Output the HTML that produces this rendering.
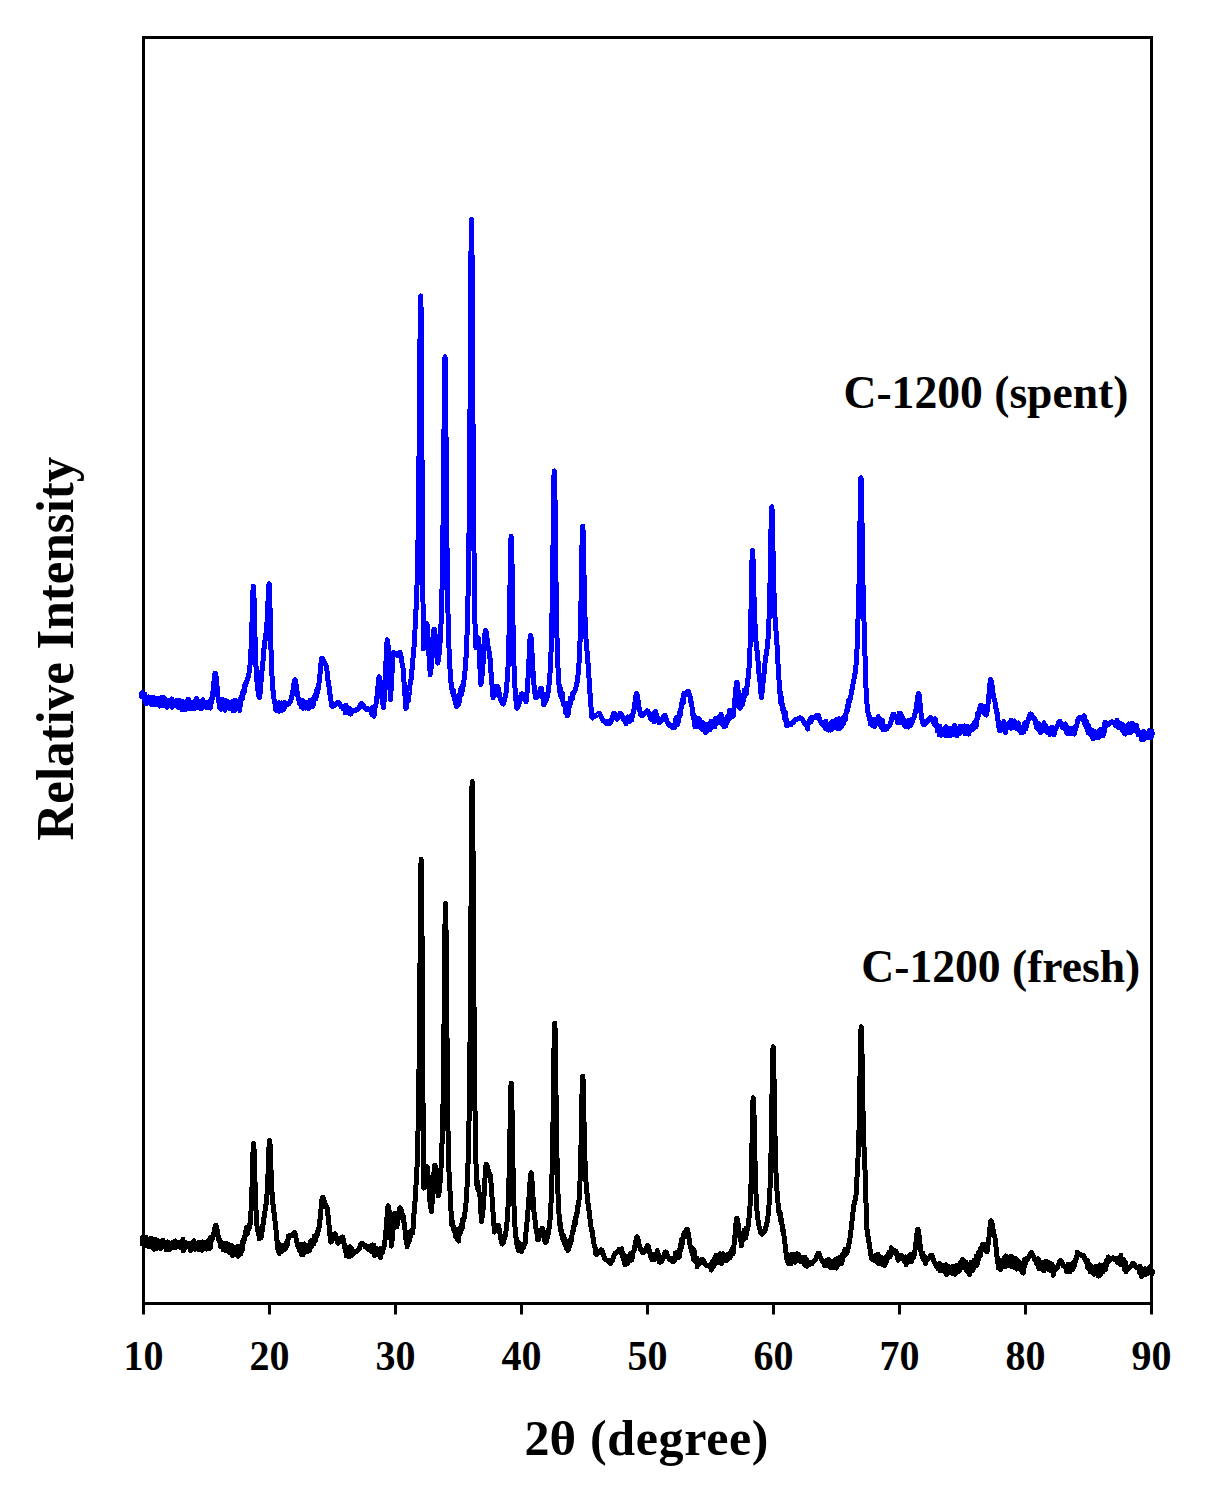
<!DOCTYPE html>
<html><head><meta charset="utf-8"><style>
html,body{margin:0;padding:0;background:#fff;}
#c{position:relative;width:1208px;height:1491px;overflow:hidden;background:#fff;}
svg{position:absolute;left:0;top:0;}
text{font-family:"Liberation Serif",serif;font-weight:bold;fill:#000;}
</style></head><body><div id="c">
<svg width="1208" height="1491" viewBox="0 0 1208 1491">
<rect x="143.5" y="37.5" width="1008" height="1266" fill="none" stroke="#000" stroke-width="3"/>
<g stroke="#000" stroke-width="3"><line x1="143.5" y1="1303" x2="143.5" y2="1314.5"/><line x1="269.5" y1="1303" x2="269.5" y2="1314.5"/><line x1="395.5" y1="1303" x2="395.5" y2="1314.5"/><line x1="521.5" y1="1303" x2="521.5" y2="1314.5"/><line x1="647.5" y1="1303" x2="647.5" y2="1314.5"/><line x1="773.5" y1="1303" x2="773.5" y2="1314.5"/><line x1="899.5" y1="1303" x2="899.5" y2="1314.5"/><line x1="1025.5" y1="1303" x2="1025.5" y2="1314.5"/><line x1="1151.5" y1="1303" x2="1151.5" y2="1314.5"/></g>
<g font-size="40" text-anchor="middle"><text transform="translate(143.5,1370) scale(1,1.035)">10</text><text transform="translate(269.5,1370) scale(1,1.035)">20</text><text transform="translate(395.5,1370) scale(1,1.035)">30</text><text transform="translate(521.5,1370) scale(1,1.035)">40</text><text transform="translate(647.5,1370) scale(1,1.035)">50</text><text transform="translate(773.5,1370) scale(1,1.035)">60</text><text transform="translate(899.5,1370) scale(1,1.035)">70</text><text transform="translate(1025.5,1370) scale(1,1.035)">80</text><text transform="translate(1151.5,1370) scale(1,1.035)">90</text></g>
<path d="M141.0,692.0 141.2,695.6 141.5,696.6 141.8,694.0 142.0,692.7 142.2,692.6 142.5,695.8 142.8,694.0 143.0,697.0 143.2,693.8 143.5,697.7 143.8,697.6 144.0,698.7 144.2,695.4 144.5,697.7 144.8,697.6 145.0,694.4 145.2,699.2 145.5,698.8 145.8,703.7 146.0,698.8 146.2,698.1 146.5,701.3 146.8,699.1 147.0,700.8 147.2,698.0 147.5,699.4 147.8,701.4 148.0,700.7 148.2,699.5 148.5,696.9 148.8,700.5 149.0,699.7 149.2,701.3 149.5,700.3 149.8,702.4 150.0,700.0 150.2,699.9 150.5,700.6 150.8,701.7 151.0,697.8 151.2,699.4 151.5,699.3 151.8,705.0 152.0,700.3 152.2,702.1 152.5,702.1 152.8,700.1 153.0,697.3 153.2,703.1 153.5,700.0 153.8,702.7 154.0,698.1 154.2,700.2 154.5,704.1 154.8,704.6 155.0,698.4 155.2,698.4 155.5,701.4 155.8,703.2 156.0,702.0 156.2,702.4 156.5,699.5 156.8,703.2 157.0,704.5 157.2,701.0 157.5,698.7 157.8,700.4 158.0,703.9 158.2,698.3 158.5,702.1 158.8,700.1 159.0,702.2 159.2,702.0 159.5,702.6 159.8,706.1 160.0,703.7 160.2,705.9 160.5,702.5 160.8,701.8 161.0,703.0 161.2,703.9 161.5,697.2 161.8,702.9 162.0,703.4 162.2,700.2 162.5,704.1 162.8,701.7 163.0,697.3 163.2,702.5 163.5,700.7 163.8,701.8 164.0,702.6 164.2,705.9 164.5,703.2 164.8,702.9 165.0,703.9 165.2,698.8 165.5,705.9 165.8,700.5 166.0,704.0 166.2,700.4 166.5,700.8 166.8,702.1 167.0,707.4 167.2,704.6 167.5,701.6 167.8,702.3 168.0,700.4 168.2,702.9 168.5,701.7 168.8,704.7 169.0,699.9 169.2,702.2 169.5,701.1 169.8,701.3 170.0,704.6 170.2,703.3 170.5,704.3 170.8,705.7 171.0,705.6 171.2,699.8 171.5,704.2 171.8,698.9 172.0,702.9 172.2,707.4 172.5,702.6 172.8,702.2 173.0,703.4 173.2,703.0 173.5,703.1 173.8,701.3 174.0,705.5 174.2,705.0 174.5,702.5 174.8,703.7 175.0,703.0 175.2,704.5 175.5,705.4 175.8,704.0 176.0,704.7 176.2,702.6 176.5,700.7 176.8,702.1 177.0,705.6 177.2,705.5 177.5,703.7 177.8,702.1 178.0,704.1 178.2,707.3 178.5,706.6 178.8,701.9 179.0,703.4 179.2,700.2 179.5,701.0 179.8,704.1 180.0,703.7 180.2,705.9 180.5,706.6 180.8,705.7 181.0,706.8 181.2,702.6 181.5,701.3 181.8,705.1 182.0,709.7 182.2,704.8 182.5,701.4 182.8,704.6 183.0,707.3 183.2,701.7 183.5,706.0 183.8,702.8 184.0,707.1 184.2,706.0 184.5,705.0 184.8,708.9 185.0,703.4 185.2,702.8 185.5,708.7 185.8,702.4 186.0,709.5 186.2,704.4 186.5,702.1 186.8,704.6 187.0,704.9 187.2,705.1 187.5,704.2 187.8,707.2 188.0,699.4 188.2,703.5 188.5,704.2 188.8,709.0 189.0,700.3 189.2,704.1 189.5,702.3 189.8,703.4 190.0,705.0 190.2,706.4 190.5,705.9 190.8,708.2 191.0,703.5 191.2,705.5 191.5,707.5 191.8,706.9 192.0,704.0 192.2,707.4 192.5,702.6 192.8,708.9 193.0,705.1 193.2,704.4 193.5,705.3 193.8,706.6 194.0,708.6 194.2,704.2 194.5,703.7 194.8,705.9 195.0,702.5 195.2,700.6 195.5,706.4 195.8,703.6 196.0,707.0 196.2,702.0 196.5,698.6 196.8,705.0 197.0,704.7 197.2,708.0 197.5,705.5 197.8,704.9 198.0,705.5 198.2,703.3 198.5,704.3 198.8,701.0 199.0,705.3 199.2,702.2 199.5,703.0 199.8,705.6 200.0,704.0 200.2,706.1 200.5,701.7 200.8,708.6 201.0,702.6 201.2,705.9 201.5,706.2 201.8,704.5 202.0,704.4 202.2,708.1 202.5,706.0 202.8,705.0 203.0,699.8 203.2,702.3 203.5,706.7 203.8,704.4 204.0,701.8 204.2,702.5 204.5,703.3 204.8,705.6 205.0,704.9 205.2,706.3 205.5,702.1 205.8,706.3 206.0,702.8 206.2,703.3 206.5,708.0 206.8,704.2 207.0,703.7 207.2,703.5 207.5,703.1 207.8,707.6 208.0,707.2 208.2,705.6 208.5,704.4 208.8,706.4 209.0,703.8 209.2,705.0 209.5,704.9 209.8,704.2 210.0,707.8 210.2,708.0 210.5,707.0 210.8,699.6 211.0,704.0 211.8,701.4 212.3,697.5 212.5,695.4 212.8,693.7 213.0,691.5 213.3,688.9 213.5,686.5 213.8,683.9 214.0,681.2 214.3,678.7 214.5,676.5 214.8,674.7 215.0,673.6 215.3,673.2 215.6,673.7 215.8,675.0 216.1,677.0 216.4,679.5 216.6,682.3 216.9,685.1 217.2,688.2 217.4,690.9 217.7,692.9 217.9,695.8 218.5,700.9 219.0,703.0 219.2,707.3 219.5,702.3 219.8,706.2 220.0,701.4 220.2,704.0 220.5,708.1 220.8,705.4 221.0,709.3 221.2,702.5 221.5,704.9 221.8,704.8 222.0,699.1 222.2,699.5 222.5,700.6 222.8,703.1 223.0,703.2 223.2,702.6 223.5,702.3 223.8,703.8 224.0,704.4 224.2,705.4 224.5,703.2 224.8,710.3 225.0,701.5 225.2,705.8 225.5,701.4 225.8,700.6 226.0,703.4 226.2,706.2 226.5,704.1 226.8,706.9 227.0,708.0 227.2,701.3 227.5,704.6 227.8,707.3 228.0,702.5 228.2,704.7 228.5,704.2 228.8,704.7 229.0,707.4 229.2,706.0 229.5,708.5 229.8,707.2 230.0,706.0 230.2,706.8 230.5,706.3 230.8,704.7 231.0,704.5 231.2,706.6 231.5,703.3 231.8,706.7 232.0,704.8 232.2,701.7 232.5,705.7 232.8,710.7 233.0,708.3 233.2,707.5 233.5,709.2 233.8,709.9 234.0,705.2 234.2,705.1 234.5,706.5 234.8,700.4 235.0,705.0 235.2,704.2 235.5,710.1 235.8,708.6 236.0,709.3 236.2,707.3 236.5,705.7 236.8,708.7 237.0,702.9 237.2,709.0 237.5,702.8 237.8,705.1 238.0,701.7 238.2,706.2 238.5,707.4 238.8,707.1 239.0,708.2 239.2,704.2 239.5,703.5 239.8,710.5 240.0,705.0 240.2,706.4 240.5,704.1 240.8,699.4 241.0,696.8 241.2,699.0 241.5,697.0 241.8,698.9 242.0,696.4 242.2,697.8 242.5,698.6 242.8,694.9 243.0,690.8 243.2,694.0 243.5,693.5 243.8,691.4 244.0,690.3 244.2,689.5 244.5,687.4 244.8,691.0 245.0,683.9 245.2,686.2 245.5,683.8 246.3,682.8 247.0,680.6 247.8,678.1 248.6,675.7 249.3,671.0 250.1,664.0 250.3,660.7 250.6,656.9 250.9,652.5 251.1,647.4 251.4,641.4 251.6,634.6 251.9,626.7 252.1,618.2 252.4,609.2 252.6,600.5 252.9,593.0 253.1,587.9 253.4,586.1 253.7,588.3 253.9,594.3 254.2,603.1 254.4,613.3 254.7,623.9 254.9,634.0 255.2,643.2 255.4,651.4 255.7,658.3 255.9,664.6 256.2,669.8 256.4,674.1 257.2,684.2 258.0,691.0 258.7,695.3 259.5,697.6 259.8,694.7 260.0,693.6 260.3,690.0 260.5,687.1 260.8,682.4 261.0,681.5 261.3,679.8 261.5,677.7 261.8,674.3 262.0,670.5 262.3,667.7 262.5,664.0 262.8,662.1 263.0,661.4 263.3,657.6 263.5,653.9 263.8,653.6 264.0,648.2 264.3,648.3 264.5,644.2 264.8,641.8 265.6,637.2 266.3,630.8 266.6,628.1 266.8,624.7 267.1,620.5 267.3,616.1 267.6,610.9 267.8,605.2 268.1,599.2 268.3,593.4 268.6,588.5 268.8,585.1 269.1,583.9 269.4,586.2 269.6,592.5 269.9,601.8 270.1,612.6 270.4,623.9 270.6,634.8 270.9,644.7 271.1,653.6 271.4,661.4 271.6,667.9 271.9,673.6 272.1,678.3 272.9,689.4 273.6,695.9 274.4,701.4 275.1,703.6 275.6,706.0 275.9,710.1 276.1,705.5 276.4,704.7 276.6,704.7 276.9,711.0 277.1,703.0 277.4,708.6 277.6,709.1 277.9,707.8 278.1,703.2 278.4,705.2 278.6,703.6 278.9,711.4 279.2,703.2 279.4,702.9 279.7,708.8 279.9,704.7 280.2,706.6 280.4,705.5 280.7,707.1 280.9,710.9 281.2,702.8 281.4,708.3 281.7,708.1 282.0,705.0 282.2,706.6 282.5,705.5 282.7,707.7 283.0,706.0 283.2,705.8 283.5,706.9 283.7,708.3 284.0,709.2 284.2,706.4 284.5,702.6 284.7,703.3 285.0,706.0 285.8,704.9 286.5,704.8 287.2,705.0 288.0,703.8 288.8,703.8 289.5,702.1 290.2,701.6 290.8,700.1 291.0,699.9 291.2,698.7 291.5,697.8 291.8,697.2 292.0,695.7 292.2,694.5 292.5,693.5 292.8,691.7 293.0,690.1 293.2,688.5 293.5,686.7 293.8,685.0 294.0,683.3 294.2,681.9 294.5,680.7 294.8,680.0 295.0,679.7 295.3,680.0 295.5,680.8 295.8,682.2 296.0,683.8 296.3,685.7 296.5,687.7 296.8,689.6 297.0,691.5 297.3,693.1 297.6,694.8 297.8,696.3 298.1,697.3 298.3,698.8 298.6,699.9 298.8,700.1 299.6,703.7 300.4,703.7 301.1,706.5 301.4,706.1 301.7,700.4 301.9,704.4 302.2,706.5 302.4,700.3 302.7,707.9 302.9,708.1 303.2,704.3 303.4,705.2 303.7,703.9 303.9,706.0 304.2,706.0 304.4,706.1 304.7,703.7 304.9,707.0 305.2,705.3 305.4,708.2 305.7,706.8 305.9,702.6 306.2,702.7 306.4,706.2 306.7,704.9 307.0,707.1 307.2,707.9 307.5,706.1 307.7,702.2 308.0,703.3 308.2,707.4 308.5,703.6 308.7,708.6 309.0,705.8 309.2,707.2 309.5,704.0 309.7,705.8 310.0,700.3 310.2,705.5 310.5,707.3 310.7,703.9 311.0,704.1 311.2,705.9 311.5,706.2 311.7,704.1 312.0,706.0 312.2,706.9 312.5,700.9 312.8,706.6 313.0,700.1 313.2,700.8 313.5,705.1 313.8,699.0 314.0,696.9 314.2,700.2 314.5,697.2 314.8,696.1 315.0,696.4 315.2,695.6 315.5,694.4 315.8,693.6 316.0,699.0 316.2,693.1 316.5,696.2 316.8,690.1 317.0,693.9 317.2,689.1 317.5,690.3 317.8,692.1 318.0,690.0 318.8,685.7 319.0,683.3 319.3,681.2 319.6,679.2 319.8,676.1 320.1,673.3 320.3,670.4 320.6,667.4 320.9,664.5 321.1,662.0 321.4,660.0 321.6,658.7 321.9,658.2 322.2,658.3 322.4,658.6 322.7,659.0 322.9,659.5 323.2,660.1 323.4,660.7 323.7,661.4 323.9,662.0 324.2,662.5 324.4,663.0 324.7,663.5 324.9,663.2 325.7,665.0 326.2,665.5 326.5,667.4 326.7,668.4 327.0,670.5 327.2,674.3 327.5,676.3 327.7,677.2 328.0,680.4 328.3,680.5 328.5,681.8 328.8,685.6 329.0,686.3 329.3,688.3 329.5,691.1 329.8,694.4 330.1,694.5 330.3,696.8 330.6,698.9 330.8,699.3 331.1,701.5 331.3,705.0 331.6,706.1 332.4,706.6 333.1,705.0 333.9,705.8 334.2,705.4 334.4,705.2 334.7,705.4 334.9,704.9 335.2,704.7 335.4,704.8 335.7,704.3 336.0,704.1 336.2,703.7 336.5,703.5 336.7,703.2 337.0,703.0 337.2,702.7 337.5,702.6 337.7,702.4 338.0,702.4 338.2,702.5 338.5,702.6 338.8,702.9 339.0,703.2 339.2,703.6 339.5,703.9 339.8,704.4 340.0,704.8 340.2,705.3 340.5,705.5 340.8,705.8 341.0,706.5 341.2,706.3 341.5,706.5 341.8,706.4 342.0,706.9 342.5,706.6 343.2,708.6 344.0,708.3 344.8,708.9 345.0,708.0 345.2,713.0 345.5,709.2 345.8,707.0 346.0,707.2 346.2,705.2 346.5,710.5 346.8,709.4 347.0,707.7 347.2,708.4 347.5,708.5 347.8,712.1 348.0,709.4 348.2,713.1 348.5,708.2 348.8,708.8 349.0,709.3 349.2,709.3 349.5,710.5 349.8,713.2 350.0,713.8 350.2,708.7 350.5,714.2 350.8,711.7 351.0,711.6 351.8,712.1 352.5,710.9 353.3,710.3 354.1,710.9 354.8,711.0 355.6,709.9 356.4,709.8 357.1,709.2 357.4,709.8 357.6,709.6 357.9,709.5 358.1,709.1 358.4,708.8 358.6,708.8 358.9,708.1 359.2,707.7 359.4,707.0 359.7,706.7 359.9,706.2 360.2,705.5 360.4,705.1 360.7,704.6 360.9,704.1 361.2,703.7 361.4,703.5 361.7,703.4 362.0,703.5 362.2,703.7 362.5,704.0 362.7,704.4 363.0,704.9 363.2,705.4 363.5,705.8 363.7,706.3 364.0,706.8 364.3,707.1 364.5,707.4 364.8,707.6 365.0,708.0 365.3,708.3 365.5,709.0 365.8,708.7 366.0,708.9 366.3,708.4 367.1,709.9 367.8,708.8 368.6,709.7 369.4,710.1 370.1,709.9 370.9,709.4 371.4,710.4 371.7,714.1 371.9,710.9 372.2,714.7 372.5,707.6 372.7,711.2 373.0,711.4 373.2,714.1 373.5,709.1 373.8,713.3 374.0,716.4 374.3,710.7 375.1,707.1 375.8,705.1 376.1,703.1 376.3,701.4 376.6,700.0 376.8,697.5 377.1,695.2 377.3,692.7 377.6,690.2 377.8,687.6 378.1,684.9 378.3,682.3 378.6,680.1 378.8,678.3 379.1,677.2 379.3,676.8 379.6,677.2 379.8,678.5 380.1,680.4 380.4,682.8 380.6,685.5 380.9,688.2 381.1,691.0 381.4,693.6 381.7,696.5 381.9,698.3 382.2,700.3 382.4,702.6 383.2,705.6 383.5,707.6 384.3,698.4 384.5,693.4 384.8,688.8 385.1,683.1 385.3,678.0 385.6,672.0 385.8,665.6 386.1,659.4 386.4,653.3 386.6,647.9 386.9,643.6 387.1,640.8 387.4,639.8 387.7,640.8 387.9,643.7 388.2,648.1 388.4,653.7 388.7,660.0 388.9,666.4 389.2,673.0 389.5,679.2 389.7,684.5 390.5,699.6 391.2,687.7 391.5,683.1 391.8,678.2 392.0,673.2 392.2,667.9 392.5,663.1 392.8,658.8 393.0,655.3 393.2,653.2 393.5,652.4 393.8,652.4 394.0,652.6 394.2,652.7 394.5,653.0 394.8,653.3 395.0,653.4 395.2,653.9 395.5,654.1 395.8,654.8 396.0,654.6 396.5,654.1 397.0,655.4 397.2,655.4 397.5,655.2 397.8,655.0 398.0,654.7 398.2,654.4 398.5,653.9 398.8,653.8 399.0,653.4 399.2,652.5 400.0,652.4 400.2,652.7 400.5,653.4 400.8,654.5 401.0,655.9 401.2,657.5 401.5,659.3 401.8,660.9 402.0,662.6 402.2,664.5 403.0,668.0 403.3,670.0 403.5,674.5 403.8,677.2 404.0,681.9 404.3,685.2 404.5,687.9 404.8,691.4 405.0,696.4 405.3,699.9 405.5,706.0 405.8,707.6 406.1,708.5 406.3,703.7 406.6,703.3 406.9,701.1 407.1,700.5 407.4,700.5 407.7,700.1 407.9,697.8 408.2,700.0 408.5,698.6 408.7,700.5 409.0,695.0 409.2,691.7 409.5,691.5 409.8,688.4 410.0,685.2 410.2,684.3 410.5,681.0 410.8,680.4 411.0,680.6 411.2,677.5 411.5,675.8 411.8,673.2 412.0,670.0 412.2,665.6 412.5,664.4 412.8,661.1 413.0,658.4 413.2,654.0 413.5,650.2 413.8,650.9 414.0,647.1 414.2,643.3 414.5,640.0 414.8,634.5 415.0,630.2 415.2,623.9 415.5,620.9 415.8,615.2 416.0,609.9 416.2,604.6 416.5,600.0 417.3,576.0 418.1,535.9 418.3,518.4 418.6,497.3 418.9,472.7 419.1,445.1 419.4,414.2 419.6,381.6 419.9,349.6 420.2,321.9 420.4,302.8 420.7,295.9 421.0,305.0 421.2,330.4 421.5,367.6 421.7,411.0 422.0,455.6 422.2,498.1 422.5,537.2 422.7,571.6 423.0,601.8 423.5,649.0 424.3,644.2 424.5,641.6 424.8,639.2 425.0,637.0 425.3,634.2 425.5,631.6 425.8,629.1 426.0,626.9 426.3,625.2 426.5,624.1 426.8,623.7 427.1,624.4 427.3,626.5 427.6,629.8 427.8,633.9 428.1,638.5 428.3,643.4 428.6,648.3 428.8,653.1 429.1,657.3 429.3,661.6 429.8,668.5 430.3,674.6 431.1,668.2 431.3,664.8 431.6,661.6 431.8,658.7 432.1,654.3 432.3,650.3 432.6,646.1 432.8,641.9 433.1,637.9 433.3,634.3 433.6,631.5 433.8,629.7 434.1,629.1 434.4,629.6 434.6,631.1 434.9,633.4 435.2,636.3 435.4,639.5 435.7,642.8 436.0,646.2 436.2,649.3 436.5,652.9 436.7,654.9 437.3,660.0 437.8,663.1 438.6,658.6 439.3,651.5 440.1,641.4 440.9,627.3 441.7,604.8 441.9,594.3 442.2,582.5 442.4,568.5 442.7,552.5 442.9,533.6 443.2,511.6 443.5,486.9 443.7,459.6 444.0,431.0 444.2,403.1 444.5,379.1 444.7,362.6 445.0,356.7 445.3,362.9 445.5,380.2 445.8,405.6 446.0,435.3 446.3,466.0 446.5,495.5 446.8,522.4 447.0,546.3 447.3,567.2 447.5,585.0 447.8,600.3 448.0,613.0 448.8,643.0 449.5,661.6 450.3,673.7 451.0,682.4 451.8,689.0 452.1,689.6 452.3,689.2 452.6,692.8 452.8,691.8 453.1,689.9 453.3,692.0 453.6,693.8 453.9,696.5 454.1,694.4 454.4,695.7 454.6,697.6 454.9,700.2 455.1,697.9 455.4,703.5 455.7,697.0 455.9,704.6 456.2,700.3 456.4,706.5 456.7,700.2 456.9,703.7 457.2,704.0 457.5,702.1 457.7,699.6 458.0,701.4 458.2,705.2 458.5,700.2 458.7,698.6 459.0,695.4 459.3,694.7 459.5,701.8 459.8,695.4 460.0,694.3 460.3,689.7 460.5,696.1 460.8,692.6 461.1,693.0 461.3,694.7 461.6,694.7 461.8,686.5 462.1,688.5 462.3,690.7 462.6,689.0 463.4,685.4 464.1,679.1 464.9,672.3 465.7,663.6 466.4,649.9 467.2,630.4 467.9,601.3 468.2,588.5 468.4,573.2 468.7,555.5 469.0,534.5 469.2,510.1 469.5,481.7 469.7,448.9 470.0,411.9 470.2,371.2 470.5,328.8 470.7,287.6 471.0,252.2 471.2,228.0 471.5,219.4 471.8,228.3 472.0,253.3 472.2,289.9 472.5,332.8 472.8,377.3 473.0,420.2 473.2,459.4 473.5,494.2 473.8,524.3 474.0,550.8 474.5,593.0 475.2,634.7 475.5,646.0 475.8,647.6 476.0,641.9 476.3,647.7 476.6,643.4 476.8,641.5 477.1,645.2 477.4,640.3 477.6,645.0 477.9,637.6 478.2,637.6 478.4,641.7 478.7,639.6 479.0,643.1 479.2,650.2 479.5,656.9 479.8,660.7 480.0,669.0 480.3,671.1 480.5,678.9 480.8,684.6 481.6,680.1 482.4,672.8 482.6,669.3 482.9,665.9 483.1,662.2 483.4,658.2 483.7,653.8 483.9,649.3 484.2,644.7 484.5,640.2 484.7,636.3 485.0,633.1 485.2,631.1 485.5,630.4 485.8,630.7 486.0,631.5 486.2,632.8 486.5,634.5 486.8,636.3 487.0,638.4 487.2,640.2 487.5,642.1 487.8,644.0 488.0,645.6 488.2,647.1 488.5,647.6 489.2,652.6 489.5,652.6 489.8,656.4 490.0,658.5 490.3,662.4 490.5,665.0 490.8,670.0 491.0,672.4 491.3,675.1 491.6,677.7 491.8,683.3 492.1,684.7 492.3,685.7 492.6,690.0 492.8,694.1 493.1,697.6 493.9,696.4 494.4,695.2 494.6,694.5 494.9,693.8 495.1,693.0 495.4,692.1 495.6,691.1 495.9,690.2 496.1,689.2 496.4,688.2 496.6,687.4 496.9,686.8 497.1,686.3 497.4,686.2 497.7,686.4 497.9,687.0 498.2,687.9 498.4,689.1 498.7,690.4 498.9,691.8 499.2,693.1 499.4,694.4 499.7,695.5 499.9,696.8 500.2,697.8 500.5,698.5 500.7,699.6 501.0,700.3 501.2,701.0 502.0,702.8 502.7,703.8 503.0,704.0 503.8,702.9 504.5,699.2 505.3,696.6 506.1,692.3 506.8,685.1 507.6,674.4 507.9,669.6 508.1,664.2 508.4,657.7 508.6,650.3 508.9,641.6 509.1,631.3 509.4,619.6 509.7,606.2 509.9,591.6 510.2,576.1 510.4,561.2 510.7,548.3 510.9,539.5 511.2,536.3 511.5,539.6 511.7,548.8 512.0,562.4 512.2,578.2 512.5,594.5 512.7,610.3 513.0,624.5 513.2,637.2 513.5,648.6 513.7,657.8 514.0,665.9 514.2,673.3 515.0,688.2 515.7,698.3 516.5,705.5 517.0,708.3 517.8,706.6 518.6,705.4 518.8,704.2 519.1,703.3 519.4,702.3 519.6,701.2 519.9,700.0 520.1,698.7 520.4,697.5 520.7,696.3 520.9,695.3 521.2,694.4 521.4,693.9 521.7,693.7 522.0,693.8 522.2,694.1 522.5,694.6 522.7,695.2 523.0,695.9 523.2,696.5 523.5,697.3 523.7,698.0 524.0,698.5 524.2,699.2 524.5,699.8 524.7,699.4 525.5,700.6 526.0,702.0 526.8,695.0 527.5,687.1 527.8,682.8 528.0,678.6 528.3,674.1 528.6,669.0 528.8,663.6 529.1,658.0 529.3,652.5 529.6,647.2 529.8,642.4 530.1,638.7 530.3,636.2 530.6,635.4 530.9,636.1 531.1,638.3 531.4,641.7 531.6,645.9 531.9,650.6 532.1,655.6 532.4,660.6 532.6,665.4 532.9,670.0 533.2,673.9 533.4,677.7 533.7,681.3 533.9,684.1 534.4,689.0 535.2,695.6 535.7,697.8 536.5,697.2 537.2,696.8 537.8,695.6 538.0,695.2 538.3,694.7 538.5,694.1 538.8,693.9 539.0,692.9 539.3,692.2 539.6,691.5 539.8,690.7 540.1,690.0 540.3,689.3 540.6,688.8 540.8,688.5 541.1,688.4 541.4,688.7 541.6,689.5 541.9,690.8 542.1,692.5 542.4,694.4 542.6,696.6 542.9,698.3 543.1,700.2 543.4,701.4 543.9,705.0 544.7,703.0 545.4,701.8 546.2,700.2 546.9,698.4 547.7,694.1 548.5,689.9 549.2,683.5 550.0,673.0 550.7,659.1 551.0,652.5 551.3,645.0 551.5,636.6 551.8,625.9 552.0,613.8 552.3,599.8 552.5,583.7 552.8,565.5 553.0,545.5 553.3,524.6 553.5,504.3 553.8,487.0 554.0,475.1 554.3,470.9 554.6,475.3 554.8,487.6 555.1,505.6 555.3,526.5 555.6,548.0 555.8,568.8 556.1,587.3 556.3,603.9 556.6,618.0 556.8,630.6 557.1,641.2 557.4,650.2 558.1,670.0 558.9,683.2 559.4,689.0 559.7,691.1 559.9,691.8 560.2,690.9 560.4,694.7 560.7,694.2 560.9,689.3 561.2,695.3 561.4,691.9 561.7,698.0 561.9,698.1 562.2,696.7 562.4,696.8 562.7,694.2 562.9,699.8 563.2,704.2 563.5,704.6 563.7,704.2 564.0,704.6 564.2,705.2 564.5,703.9 564.7,703.2 565.0,706.0 565.2,712.5 565.5,703.2 565.7,708.0 566.0,712.1 566.2,712.5 566.5,709.3 566.7,712.7 567.0,712.6 567.3,715.6 567.5,709.7 567.8,712.6 568.0,715.3 568.3,709.1 568.5,705.1 568.8,702.8 569.0,708.2 569.3,705.3 569.6,702.5 569.8,703.5 570.1,703.7 570.3,698.2 570.6,702.1 570.8,702.9 571.1,699.7 571.4,697.3 571.6,699.8 571.9,699.1 572.1,694.4 572.4,695.3 572.6,698.5 572.9,694.2 573.1,693.2 573.4,693.4 574.2,692.0 574.9,690.3 575.7,688.8 576.4,685.4 577.2,681.6 577.9,676.4 578.7,668.6 579.4,656.2 579.7,650.9 579.9,644.5 580.2,637.1 580.4,628.3 580.7,618.2 580.9,606.5 581.2,593.5 581.4,579.2 581.7,564.3 581.9,549.9 582.2,537.6 582.4,529.2 582.7,526.2 583.0,529.0 583.2,536.7 583.5,547.9 583.7,560.9 584.0,574.1 584.3,586.5 584.5,598.1 584.8,608.0 585.0,616.5 585.3,623.9 585.8,635.7 586.6,647.4 587.4,654.7 587.7,658.0 587.9,662.8 588.2,663.9 588.4,668.9 588.7,674.0 588.9,676.5 589.2,680.8 589.4,684.5 589.7,688.2 589.9,692.3 590.2,695.6 590.4,698.3 590.7,701.2 590.9,705.7 591.2,709.1 591.4,713.7 591.7,717.0 592.5,717.9 593.2,716.6 594.0,715.5 594.7,715.4 595.2,716.2 595.5,715.7 595.7,715.9 596.0,715.8 596.2,715.7 596.5,715.4 596.7,715.2 597.0,714.7 597.2,714.7 597.5,714.5 597.7,714.1 598.0,713.9 598.2,713.7 598.5,713.4 598.7,713.3 599.0,713.1 599.2,713.1 599.5,713.2 599.7,713.5 600.0,713.9 600.2,714.5 600.5,715.1 600.7,715.8 601.0,716.5 601.2,717.1 601.5,717.8 601.7,718.3 602.0,718.8 602.2,719.3 602.5,719.7 602.7,720.1 603.0,719.7 603.2,720.7 603.5,721.0 603.7,720.9 604.5,721.1 605.2,721.7 606.0,723.1 606.7,723.2 607.5,721.7 608.2,722.0 609.0,723.8 609.7,722.2 610.0,723.3 610.8,721.6 611.2,720.8 611.5,719.8 611.8,719.3 612.0,718.5 612.2,717.4 612.5,716.7 612.8,715.8 613.0,714.9 613.2,714.2 613.5,713.6 613.8,713.2 614.0,713.1 614.3,713.2 614.5,713.5 614.8,714.0 615.1,714.6 615.3,715.2 615.6,716.2 615.9,716.6 616.1,717.2 616.4,718.1 617.2,719.3 618.0,717.4 618.3,717.2 618.5,716.6 618.8,716.0 619.1,715.2 619.3,714.6 619.6,714.0 619.9,713.5 620.1,713.2 620.4,713.1 620.7,713.2 620.9,713.5 621.2,713.9 621.4,714.5 621.7,715.1 621.9,715.6 622.2,716.3 622.5,716.9 622.7,717.9 623.0,718.0 623.2,718.5 623.5,718.7 623.7,719.3 624.3,720.6 625.0,721.0 625.8,721.2 626.0,723.9 626.3,722.6 626.5,718.1 626.8,722.2 627.0,718.7 627.3,718.8 627.5,717.2 627.8,717.0 628.0,719.2 628.3,717.3 628.5,718.9 628.8,721.9 629.0,717.2 629.3,718.2 629.5,718.5 629.8,717.2 630.0,718.4 630.3,718.8 630.5,720.5 630.8,716.3 631.0,717.3 631.3,717.3 631.5,720.3 631.8,715.0 632.0,717.6 632.3,717.0 633.1,713.5 633.6,712.1 633.8,710.5 634.1,709.2 634.3,707.5 634.6,705.8 634.8,703.8 635.1,701.8 635.3,699.8 635.6,697.9 635.8,696.2 636.1,694.9 636.3,694.0 636.6,693.7 636.9,694.0 637.1,694.8 637.4,696.0 637.6,697.5 637.9,699.3 638.1,701.2 638.4,702.9 638.6,704.7 638.9,706.5 639.1,707.8 639.4,709.2 639.6,709.7 640.4,713.0 640.9,715.0 641.6,715.3 642.4,713.9 643.1,715.2 643.6,714.1 643.9,713.4 644.1,713.8 644.4,713.6 644.6,713.8 644.9,713.2 645.1,712.9 645.4,712.5 645.6,712.4 645.9,712.1 646.1,711.8 646.4,711.5 646.6,711.3 646.9,711.1 647.1,710.9 647.4,710.9 647.7,711.0 647.9,711.3 648.2,711.8 648.4,712.4 648.7,713.1 648.9,713.9 649.2,714.5 649.4,715.2 649.7,715.5 649.9,716.5 650.2,717.0 650.4,718.1 651.2,718.4 651.7,719.3 652.0,718.0 652.2,719.2 652.5,717.1 652.7,717.2 653.0,716.0 653.2,714.2 653.5,717.3 653.7,717.1 654.0,722.0 654.2,715.2 654.5,715.1 654.7,714.5 655.0,711.6 655.2,714.0 655.5,711.6 655.7,716.3 656.0,715.0 656.3,713.7 656.5,714.9 656.8,719.0 657.1,716.5 657.3,717.5 657.6,718.3 657.9,718.8 658.1,720.1 658.4,720.6 658.7,721.2 658.9,723.0 659.2,722.5 660.0,721.2 660.7,721.4 661.3,720.8 661.5,720.3 661.8,720.1 662.0,719.6 662.3,719.0 662.5,718.7 662.8,718.1 663.1,717.7 663.3,717.0 663.6,716.4 663.8,715.9 664.1,715.5 664.3,715.3 664.6,715.2 664.9,715.3 665.1,715.7 665.4,716.2 665.6,716.9 665.9,717.6 666.1,718.5 666.4,719.2 666.6,720.0 666.9,720.9 667.1,721.4 667.4,722.0 667.6,722.2 667.9,723.0 668.2,723.4 668.4,724.3 668.7,724.1 668.9,724.5 669.2,724.3 669.9,725.5 670.7,725.5 671.5,725.4 672.2,727.2 673.0,727.8 673.7,726.4 674.5,727.0 674.8,726.7 675.0,727.4 675.2,723.9 675.5,720.6 675.8,718.5 676.0,723.8 676.2,722.3 676.5,720.5 676.8,722.9 677.0,720.3 677.2,725.0 677.5,717.0 677.8,721.1 678.0,717.4 678.2,716.6 678.5,721.3 678.8,718.7 679.0,717.0 679.2,717.2 679.5,714.2 679.8,712.5 680.0,711.2 680.2,710.4 680.5,714.4 680.8,710.9 681.0,709.5 681.2,707.6 681.5,706.5 681.8,703.3 682.0,702.0 682.2,702.0 682.5,699.4 682.8,699.7 683.0,698.2 683.2,695.4 683.5,703.0 683.8,694.9 684.0,693.0 684.2,693.2 684.5,695.0 685.2,694.3 685.5,694.1 685.8,693.8 686.0,693.7 686.2,693.1 686.5,692.8 686.8,692.5 687.0,692.1 687.2,691.8 687.5,691.6 687.8,691.5 688.0,691.4 688.2,691.5 688.5,691.9 688.8,692.5 689.0,693.2 689.2,694.0 689.5,694.9 689.8,695.7 690.0,696.5 690.2,697.4 690.5,698.0 690.8,699.8 691.0,702.6 691.2,701.7 691.5,704.5 691.8,706.2 692.0,707.0 692.2,709.4 692.5,711.6 692.8,714.3 693.0,716.0 693.2,717.4 693.5,717.8 693.8,714.9 694.0,719.6 694.2,717.9 694.5,723.9 694.8,726.4 695.0,722.0 695.2,724.7 695.5,717.4 695.8,724.7 696.0,722.9 696.2,720.2 696.5,720.1 696.8,725.5 697.0,721.7 697.2,723.2 697.5,723.7 697.8,725.8 698.0,718.0 698.2,726.8 698.5,722.2 698.8,723.3 699.0,725.8 699.2,725.4 699.5,719.4 699.8,726.2 700.0,725.0 700.3,724.7 700.5,722.8 700.8,723.9 701.0,721.7 701.3,727.2 701.5,728.9 701.8,724.2 702.0,724.6 702.3,722.4 702.5,724.2 702.8,723.6 703.0,726.1 703.3,730.1 703.5,728.6 703.8,728.5 704.1,724.2 704.3,728.4 704.6,724.9 704.8,724.6 705.1,728.4 705.3,726.6 705.6,732.6 705.8,727.4 706.1,726.4 706.3,728.9 706.6,724.6 706.8,728.9 707.1,731.0 707.3,727.2 707.6,727.6 707.9,726.3 708.1,729.9 708.4,724.5 708.6,727.8 708.9,725.6 709.1,727.3 709.4,724.7 709.6,727.7 709.9,727.4 710.1,730.0 710.4,725.0 710.6,726.7 710.9,721.4 711.1,723.5 711.4,725.8 711.6,721.8 711.9,724.6 712.2,722.6 712.4,725.6 712.7,725.7 712.9,723.1 713.2,725.5 713.4,722.6 713.7,724.0 713.9,724.7 714.2,724.7 714.4,724.6 714.7,726.9 714.9,721.4 715.2,722.4 715.4,718.3 715.7,724.4 715.9,719.6 716.2,720.7 716.5,720.7 716.7,722.7 717.0,720.9 717.2,720.8 717.5,721.4 717.7,720.3 718.0,720.9 718.2,718.5 718.5,719.3 718.7,717.6 719.0,722.2 719.2,722.2 719.5,721.5 719.7,720.6 720.0,718.2 720.2,720.7 720.5,719.3 720.8,716.0 721.0,714.1 721.3,717.3 721.5,723.8 721.8,721.1 722.0,724.4 722.3,719.4 722.5,723.7 722.8,725.2 723.0,724.1 723.3,722.7 723.5,724.8 723.8,721.5 724.0,726.9 724.3,720.4 724.5,721.6 724.8,723.6 725.1,723.1 725.3,720.8 725.6,726.1 725.8,723.1 726.1,719.4 726.3,724.4 726.6,723.2 726.8,718.7 727.1,722.6 727.3,721.3 727.6,716.9 727.8,716.2 728.1,717.7 728.3,719.2 728.6,719.6 728.8,719.0 729.1,715.0 729.4,713.8 729.6,710.6 729.9,710.7 730.1,718.0 730.4,716.8 730.6,716.9 730.9,714.1 731.1,714.2 731.4,715.0 731.6,714.8 731.9,713.8 732.1,711.2 732.4,710.2 732.6,713.5 732.9,712.7 733.1,716.2 733.4,712.8 734.1,707.6 734.4,705.0 734.6,702.5 734.9,700.2 735.1,697.0 735.4,694.1 735.6,691.1 735.9,688.3 736.1,685.8 736.4,683.9 736.6,682.6 736.9,682.2 737.1,682.6 737.4,683.8 737.6,685.7 737.9,688.1 738.1,690.8 738.4,693.8 738.6,696.4 738.9,699.2 739.1,701.6 739.9,708.3 740.1,707.4 740.4,707.8 740.6,706.7 740.9,704.3 741.1,702.2 741.4,702.9 741.6,704.6 741.9,702.8 742.1,702.9 742.4,698.3 742.6,704.6 742.9,697.1 743.1,701.5 743.4,699.8 743.6,699.5 743.9,697.1 744.1,690.3 744.4,697.0 744.6,693.0 744.9,692.6 745.1,689.9 745.4,691.8 745.6,691.9 745.9,692.5 746.1,694.4 746.4,689.0 747.2,685.8 747.9,679.5 748.7,672.7 749.5,659.9 749.7,654.5 750.0,648.0 750.2,640.7 750.5,631.7 750.7,621.5 751.0,610.0 751.2,597.5 751.5,584.4 751.7,571.6 752.0,560.7 752.2,553.3 752.5,550.6 752.8,552.6 753.0,558.2 753.2,566.5 753.5,576.2 753.8,586.3 754.0,595.9 754.2,604.8 754.5,612.7 754.8,619.1 755.5,634.9 756.0,641.8 756.3,642.6 756.5,648.9 756.8,649.7 757.0,650.1 757.3,656.8 757.5,658.3 757.8,658.7 758.1,662.5 758.3,665.0 758.6,669.2 758.8,670.4 759.1,674.8 759.3,675.9 759.6,679.9 759.9,681.1 760.1,683.2 760.4,687.5 760.6,689.4 760.9,692.8 761.1,693.4 761.4,697.6 761.7,694.3 761.9,692.5 762.2,692.2 762.4,688.4 762.7,684.1 762.9,680.9 763.2,682.6 763.4,678.8 763.7,674.9 763.9,674.6 764.2,672.1 764.4,670.8 764.7,666.7 764.9,663.6 765.2,662.4 765.4,658.0 765.7,656.9 766.5,653.1 767.2,647.2 768.0,638.9 768.8,625.8 769.0,619.4 769.3,612.4 769.5,604.2 769.8,594.7 770.0,583.7 770.3,571.3 770.5,557.6 770.8,543.4 771.0,529.6 771.3,517.7 771.5,509.6 771.8,506.7 772.1,509.5 772.3,517.2 772.6,528.4 772.8,541.4 773.1,554.7 773.4,567.1 773.6,578.6 773.9,588.6 774.1,597.0 774.4,604.5 774.9,615.8 775.7,628.4 776.5,635.3 776.8,639.7 777.0,645.2 777.3,650.2 777.6,654.2 777.8,660.5 778.1,665.7 778.4,666.9 778.6,674.8 778.9,677.9 779.2,684.0 779.4,688.6 779.7,693.4 780.0,691.5 780.2,692.4 780.5,695.9 780.7,703.3 781.0,695.8 781.2,698.7 781.5,700.0 781.7,701.1 782.0,705.4 782.2,708.6 782.5,704.8 782.7,706.9 783.0,706.2 783.2,711.6 783.5,708.9 783.8,711.7 784.0,710.7 784.3,714.8 784.5,713.1 784.8,712.3 785.0,719.7 785.3,711.9 785.5,717.8 785.8,717.6 786.0,717.4 786.3,725.3 786.5,722.4 786.8,721.7 787.0,721.6 787.3,724.7 788.1,725.3 788.8,723.3 789.6,723.9 790.3,724.7 791.1,724.6 791.6,723.6 791.9,722.7 792.1,723.3 792.4,723.2 792.6,723.1 792.9,722.7 793.1,722.5 793.4,722.3 793.6,721.9 793.9,721.6 794.1,721.4 794.4,720.9 794.6,720.5 794.9,720.2 795.1,719.9 795.4,719.6 795.6,719.5 795.9,719.4 796.2,719.4 796.4,719.4 796.7,719.3 796.9,719.2 797.2,719.2 797.4,719.0 797.7,719.0 797.9,718.9 798.2,718.6 798.4,718.8 798.7,718.7 798.9,718.8 799.2,718.6 799.7,717.8 800.4,717.9 801.2,718.4 801.5,718.5 801.7,718.7 802.0,719.0 802.2,719.4 802.5,719.9 802.7,720.2 803.0,720.8 803.3,721.2 803.5,722.0 803.8,722.1 804.0,722.4 804.3,722.5 804.5,723.0 805.1,724.4 805.8,724.6 806.6,724.4 806.9,724.9 807.1,724.8 807.4,728.8 807.6,729.0 807.9,723.3 808.1,724.4 808.4,722.7 808.7,721.7 808.9,721.6 809.2,721.5 809.4,720.2 809.7,721.1 809.9,720.0 810.2,718.7 810.5,719.7 810.7,719.0 811.0,722.0 811.2,717.5 811.5,720.4 811.7,717.6 812.0,718.2 812.8,717.3 813.5,718.2 814.3,717.2 814.5,717.4 814.8,717.3 815.0,717.6 815.3,716.9 815.5,716.8 815.8,716.5 816.0,716.3 816.3,716.1 816.5,715.9 816.8,715.7 817.0,715.5 817.3,715.3 817.5,715.2 817.8,715.2 818.1,715.3 818.3,715.6 818.6,716.2 818.8,716.8 819.1,717.5 819.3,718.2 819.6,719.1 819.8,719.8 820.1,720.6 820.3,721.1 820.6,721.7 820.8,722.5 821.1,722.7 821.4,723.1 821.6,724.3 822.4,724.3 823.1,725.6 823.9,725.5 824.2,724.4 824.4,725.3 824.7,726.8 824.9,723.0 825.2,728.1 825.4,728.4 825.7,721.3 825.9,728.3 826.2,724.4 826.4,724.6 826.7,726.5 826.9,724.1 827.2,728.2 827.4,723.8 827.7,725.9 827.9,725.7 828.2,729.1 828.4,730.2 828.7,725.7 828.9,725.9 829.2,729.0 829.5,728.4 829.7,729.7 830.0,725.5 830.2,728.2 830.5,730.1 830.7,727.4 831.0,727.3 831.2,722.9 831.5,728.7 831.7,727.5 832.0,729.5 832.2,725.2 832.5,721.7 832.7,725.4 833.0,723.3 833.3,724.3 833.5,727.6 833.8,724.4 834.0,723.9 834.3,725.5 834.5,724.9 834.8,725.1 835.0,721.1 835.3,724.5 835.5,724.9 835.8,722.7 836.0,726.7 836.3,725.0 836.5,719.3 836.8,723.6 837.0,723.9 837.3,724.7 837.5,728.9 837.8,728.6 838.0,723.2 838.3,723.1 838.5,722.0 838.8,718.7 839.0,722.9 839.3,723.3 839.5,727.8 839.8,723.6 840.0,726.1 840.3,728.2 840.5,721.6 840.8,724.6 841.0,723.5 841.3,726.3 841.5,722.5 841.8,725.0 842.1,725.7 842.3,719.2 842.6,724.1 842.8,723.6 843.1,722.3 843.4,723.8 843.6,719.0 843.9,717.1 844.1,716.7 844.4,718.3 844.7,719.8 844.9,717.1 845.2,717.4 845.5,719.2 845.7,714.5 846.0,714.2 846.2,713.3 846.5,712.7 846.8,711.1 847.0,708.8 847.3,706.2 847.6,708.7 847.8,709.8 848.1,707.1 848.4,701.2 848.6,703.1 848.9,701.6 849.1,702.5 849.4,699.2 849.7,698.8 849.9,698.8 850.2,698.6 850.5,698.4 850.7,696.0 851.0,694.9 851.2,693.3 851.5,692.6 851.7,689.8 852.0,689.7 852.2,689.4 852.5,686.0 852.7,685.8 853.0,684.5 853.3,680.6 853.5,681.3 853.8,680.7 854.1,678.3 854.3,677.1 854.6,674.0 854.9,673.4 855.1,673.4 855.4,670.4 855.7,669.1 856.0,665.1 856.2,661.9 856.5,659.4 856.8,656.3 857.1,646.9 857.4,637.2 857.7,628.0 858.5,605.5 858.7,596.0 859.0,584.4 859.2,570.8 859.5,556.0 859.7,539.4 860.0,522.2 860.2,505.4 860.5,491.0 860.7,481.2 861.0,477.7 861.3,481.2 861.5,491.0 861.8,505.4 862.0,522.2 862.3,539.4 862.5,555.8 862.8,571.1 863.0,584.4 863.3,595.7 864.0,621.3 864.3,628.0 864.6,640.2 865.0,656.0 865.3,665.2 865.6,676.1 865.9,684.5 866.2,694.0 866.5,697.3 866.7,699.8 867.0,703.9 867.2,704.8 867.5,708.5 867.7,709.2 868.0,712.7 868.3,714.1 868.5,713.9 868.8,715.2 869.0,717.0 869.3,719.5 869.5,717.3 869.8,716.4 870.0,721.0 870.3,724.0 870.5,723.6 870.8,723.3 871.0,722.7 871.3,721.6 871.5,723.9 871.8,724.0 872.1,722.7 872.3,725.5 872.6,724.0 872.8,721.7 873.1,725.8 873.3,719.2 873.6,724.3 873.9,722.2 874.1,721.6 874.4,723.6 874.6,725.9 874.9,726.4 875.1,725.7 875.4,722.4 875.6,720.2 875.9,721.1 876.2,723.0 876.4,719.6 876.7,721.8 876.9,722.6 877.2,721.1 877.4,721.3 877.7,720.4 878.0,722.7 878.2,716.5 878.5,722.6 878.7,719.8 879.0,719.1 879.2,723.6 879.5,720.6 879.7,721.1 880.0,723.7 880.2,725.4 880.5,719.3 880.7,726.4 881.0,722.3 881.2,724.9 881.5,725.1 881.7,726.2 882.0,720.5 882.2,720.3 882.5,724.6 882.7,729.4 883.0,724.6 883.2,724.7 883.5,728.6 883.7,725.7 884.0,729.2 884.2,727.2 884.5,727.9 884.7,729.1 885.0,729.4 885.2,728.7 886.0,728.6 886.7,729.0 887.5,728.0 888.3,726.1 889.0,725.9 889.3,725.6 889.6,725.1 889.8,724.8 890.1,724.1 890.3,723.5 890.6,722.4 890.8,722.0 891.1,721.2 891.4,720.1 891.6,719.3 891.9,718.3 892.1,717.3 892.4,716.3 892.6,715.4 892.9,714.7 893.1,714.3 893.4,714.1 893.7,714.2 893.9,714.4 894.2,714.7 894.4,715.2 894.7,715.7 894.9,716.0 895.2,716.7 895.5,717.1 895.7,718.0 896.0,718.0 896.5,718.3 897.0,719.3 897.3,716.6 897.5,720.4 897.8,723.0 898.0,715.7 898.3,720.9 898.5,716.0 898.8,720.2 899.0,719.4 899.3,713.0 899.5,717.2 899.8,718.4 900.0,717.0 900.3,714.8 900.5,723.0 900.8,713.7 901.0,718.0 901.3,718.2 901.6,721.0 901.8,715.6 902.1,716.6 902.3,716.8 902.6,718.8 902.8,720.7 903.1,720.5 903.3,720.0 903.6,720.0 903.8,723.8 904.1,722.5 904.3,720.9 904.6,721.5 904.8,726.2 905.1,720.9 905.4,724.3 905.6,722.0 905.9,723.3 906.1,726.3 906.4,721.9 906.6,724.5 906.9,723.7 907.1,725.4 907.4,725.9 907.6,725.4 907.9,723.9 908.1,725.2 908.4,727.2 908.6,720.5 908.9,725.7 909.2,725.0 909.4,720.1 909.7,723.3 909.9,721.8 910.2,723.2 910.4,725.5 910.7,720.9 910.9,720.0 911.2,722.7 911.4,720.4 911.7,723.5 911.9,722.6 912.2,721.5 912.4,720.5 912.7,718.8 912.9,720.0 913.2,719.3 914.0,717.3 914.7,714.5 915.3,713.3 915.5,711.9 915.8,710.8 916.0,709.3 916.3,707.7 916.5,705.8 916.8,703.9 917.1,702.0 917.3,699.9 917.6,698.0 917.8,696.3 918.1,694.9 918.3,694.0 918.6,693.7 918.9,694.1 919.1,695.2 919.4,696.9 919.6,699.1 919.9,701.5 920.1,704.1 920.4,706.6 920.6,709.1 920.9,711.1 921.1,713.6 921.4,715.5 921.6,717.0 922.4,721.7 922.9,723.6 923.6,724.3 924.4,723.7 925.1,724.1 925.9,721.7 926.4,722.3 926.6,721.8 926.9,721.9 927.1,721.6 927.4,721.3 927.6,721.1 927.9,720.7 928.1,720.1 928.4,720.0 928.6,719.6 928.9,719.0 929.1,718.7 929.4,718.3 929.6,717.9 929.9,717.6 930.1,717.5 930.4,717.4 930.7,717.5 930.9,717.7 931.2,718.1 931.4,718.5 931.7,719.0 931.9,719.4 932.2,720.1 932.4,720.6 932.7,720.7 932.9,721.5 933.2,721.9 933.4,722.0 934.2,723.7 934.7,723.6 935.0,725.3 935.2,718.7 935.5,721.6 935.7,721.4 936.0,722.7 936.2,723.7 936.5,725.3 936.8,726.1 937.0,727.7 937.3,730.8 937.5,729.4 937.8,728.8 938.0,728.6 938.3,730.2 938.6,731.6 938.8,728.5 939.1,734.6 939.3,730.9 939.6,733.3 939.8,726.2 940.1,732.2 940.4,732.6 940.6,731.3 940.9,735.3 941.1,734.5 941.4,732.9 941.6,733.6 941.9,731.4 942.1,730.1 942.4,734.8 942.6,729.4 942.9,730.9 943.1,729.4 943.4,729.9 943.6,731.2 943.9,734.0 944.2,729.9 944.4,733.8 944.7,727.8 944.9,730.2 945.2,730.1 945.4,733.6 945.7,735.1 945.9,726.7 946.2,732.2 946.4,735.8 946.7,732.1 946.9,735.8 947.2,734.7 947.4,732.7 947.7,728.8 947.9,730.5 948.2,735.5 948.5,729.9 948.7,729.5 949.0,730.9 949.2,734.9 949.5,732.2 949.7,728.5 950.0,730.5 950.2,733.5 950.5,734.6 950.7,735.4 951.0,733.1 951.2,733.0 951.5,729.7 951.7,730.6 952.0,731.9 952.2,728.7 952.5,731.4 952.8,732.6 953.0,731.7 953.2,729.3 953.5,732.7 953.8,733.4 954.0,734.1 954.2,726.2 954.5,725.5 954.8,728.5 955.0,732.1 955.2,733.2 955.5,732.4 955.8,730.7 956.0,731.1 956.2,729.9 956.5,728.8 956.8,728.0 957.0,735.9 957.2,729.5 957.5,731.3 957.8,731.2 958.0,731.9 958.2,729.7 958.5,731.8 958.8,734.2 959.0,728.0 959.2,728.1 959.5,727.1 959.8,728.4 960.0,726.4 960.2,729.8 960.5,729.0 960.8,730.6 961.0,731.9 961.3,732.1 961.5,728.4 961.8,729.7 962.0,727.5 962.3,729.6 962.5,729.7 962.8,730.7 963.0,729.5 963.3,727.2 963.5,732.0 963.8,729.5 964.0,726.7 964.3,726.0 964.5,731.6 964.8,726.0 965.1,731.7 965.3,733.6 965.6,731.5 965.8,732.2 966.1,731.7 966.3,729.1 966.6,731.0 966.8,726.3 967.1,732.0 967.3,732.1 967.6,731.1 967.8,733.3 968.1,730.5 968.3,727.0 968.6,734.2 968.8,731.3 969.1,731.1 969.4,729.4 969.6,729.3 969.9,729.4 970.1,730.4 970.4,726.8 970.6,729.6 970.9,728.3 971.1,730.3 971.4,727.8 971.6,729.7 971.9,725.9 972.1,728.5 972.4,726.7 972.6,729.5 972.9,727.6 973.1,728.8 973.4,725.1 973.6,724.5 973.9,725.6 974.1,723.0 974.4,724.4 974.6,727.6 974.9,722.0 975.1,722.9 975.4,724.1 975.6,723.6 975.9,726.5 976.1,726.8 976.4,719.9 976.6,719.3 976.9,720.1 977.1,717.2 977.4,713.4 977.7,718.4 977.9,717.1 978.2,716.1 978.4,715.8 978.7,714.2 978.9,711.5 979.2,713.6 979.5,711.2 979.7,710.9 980.0,707.2 980.2,709.1 980.5,707.9 980.7,705.3 981.0,706.4 981.3,705.1 981.5,706.2 981.8,707.7 982.0,706.6 982.3,706.0 982.5,709.0 982.8,706.5 983.1,710.4 983.3,708.1 983.6,710.0 983.8,713.4 984.1,706.3 984.3,708.7 984.6,710.9 984.9,712.2 985.1,711.0 985.4,711.2 985.6,712.4 985.9,711.9 986.1,714.8 986.4,715.0 987.2,711.1 987.7,707.5 987.9,705.0 988.2,703.1 988.4,700.6 988.7,697.7 988.9,695.0 989.2,692.0 989.4,688.9 989.7,686.0 989.9,683.5 990.2,681.5 990.4,680.2 990.7,679.7 991.0,680.0 991.2,680.8 991.5,682.1 991.7,683.7 992.0,685.5 992.2,687.5 992.5,689.3 992.7,691.2 993.0,693.3 993.2,694.5 993.5,696.0 993.7,697.7 994.5,700.0 995.0,702.0 995.3,704.3 995.5,704.7 995.8,705.8 996.0,709.0 996.3,709.1 996.5,710.3 996.8,713.1 997.0,712.4 997.3,715.6 997.5,717.9 997.8,717.6 998.0,721.1 998.3,721.5 998.5,722.8 998.8,723.3 999.0,727.7 999.3,727.9 999.6,730.9 999.8,727.0 1000.1,728.6 1000.3,723.4 1000.6,727.9 1000.8,728.5 1001.1,725.9 1001.3,726.1 1001.6,727.1 1001.8,725.7 1002.1,723.7 1002.3,729.1 1002.6,729.4 1002.8,728.7 1003.1,729.0 1003.3,729.6 1003.6,726.5 1003.8,721.5 1004.1,727.2 1004.3,725.9 1004.6,724.5 1004.8,728.2 1005.1,724.7 1005.3,724.3 1005.6,732.4 1005.8,726.0 1006.1,727.2 1006.3,728.1 1006.6,726.8 1006.9,728.1 1007.1,726.4 1007.4,727.7 1007.6,726.3 1007.9,725.4 1008.1,725.7 1008.4,727.6 1008.6,727.7 1008.9,727.1 1009.1,722.6 1009.4,725.4 1009.6,727.0 1009.9,724.9 1010.2,726.8 1010.4,725.9 1010.7,728.3 1010.9,720.3 1011.2,725.8 1011.4,727.7 1011.7,726.8 1011.9,724.0 1012.2,724.6 1012.4,724.2 1012.7,725.9 1012.9,726.5 1013.2,724.8 1013.5,723.7 1013.7,727.6 1014.0,726.4 1014.2,720.8 1014.5,724.9 1014.7,725.6 1015.0,724.6 1015.2,726.5 1015.5,726.3 1015.7,726.4 1016.0,726.2 1016.2,727.6 1016.5,725.8 1016.7,728.6 1017.0,723.5 1017.2,727.9 1017.5,726.8 1017.7,727.2 1018.0,728.9 1018.2,727.0 1018.5,722.9 1018.7,725.5 1019.0,728.6 1019.2,728.6 1019.5,728.3 1019.7,728.1 1020.0,731.3 1020.2,730.0 1020.5,727.8 1020.7,728.4 1021.0,732.7 1021.2,730.7 1021.5,730.7 1021.7,731.0 1022.0,729.9 1022.2,730.0 1022.5,728.1 1022.7,726.8 1023.0,726.5 1023.2,726.5 1023.5,732.2 1023.7,729.3 1024.0,727.7 1024.2,727.1 1024.5,723.4 1024.7,728.5 1025.0,722.6 1025.2,728.5 1025.5,724.8 1025.7,722.5 1026.0,728.7 1026.2,722.9 1026.5,724.8 1027.2,723.5 1027.8,722.1 1028.0,720.8 1028.2,720.5 1028.5,719.7 1028.8,718.7 1029.0,717.8 1029.2,716.8 1029.5,715.9 1029.8,715.1 1030.0,714.5 1030.2,714.0 1030.5,713.9 1030.8,714.0 1031.0,714.2 1031.3,714.6 1031.5,715.0 1031.8,715.5 1032.1,716.0 1032.3,716.6 1032.6,717.1 1032.8,717.9 1033.1,717.9 1033.4,718.3 1033.6,718.2 1034.4,719.5 1034.7,718.4 1034.9,718.6 1035.2,721.3 1035.4,721.9 1035.7,723.3 1035.9,723.9 1036.2,722.5 1036.4,723.6 1036.7,727.7 1036.9,726.2 1037.2,727.4 1037.4,725.2 1037.7,722.9 1037.9,727.1 1038.2,729.3 1038.4,729.1 1038.7,725.5 1038.9,723.6 1039.2,727.2 1039.4,727.2 1039.7,730.0 1040.0,725.6 1040.2,732.5 1040.5,727.0 1040.7,729.1 1041.0,729.1 1041.2,726.8 1041.5,731.9 1041.7,730.3 1042.0,730.4 1042.2,727.1 1042.5,729.5 1042.7,729.1 1043.0,729.3 1043.2,727.6 1043.5,727.6 1043.7,727.2 1044.0,722.8 1044.2,727.4 1044.5,727.8 1044.7,729.5 1045.0,727.4 1045.3,725.3 1045.5,725.9 1045.8,725.9 1046.0,727.4 1046.3,731.5 1046.6,729.5 1046.8,728.4 1047.1,732.3 1047.3,727.7 1047.6,730.3 1047.9,731.9 1048.1,730.0 1048.4,732.9 1048.7,730.0 1048.9,729.0 1049.2,730.6 1049.4,732.8 1049.7,731.4 1050.0,734.5 1050.2,728.3 1050.5,732.0 1050.7,732.2 1051.0,733.5 1051.2,728.8 1051.5,727.6 1051.7,729.6 1052.0,728.6 1052.3,729.4 1052.5,727.7 1052.8,727.3 1053.0,730.8 1053.3,730.0 1053.5,731.0 1053.8,733.9 1054.0,735.0 1054.3,730.0 1055.1,730.4 1055.8,729.3 1056.3,727.9 1056.6,727.1 1056.8,727.0 1057.1,726.5 1057.3,726.2 1057.6,725.3 1057.8,724.6 1058.1,724.0 1058.3,723.3 1058.6,722.6 1058.8,722.1 1059.1,721.6 1059.3,721.3 1059.6,721.2 1059.9,721.3 1060.1,721.5 1060.4,721.9 1060.6,722.4 1060.9,723.0 1061.1,723.4 1061.4,724.1 1061.6,724.7 1061.9,725.6 1062.1,725.7 1062.4,726.2 1062.6,727.3 1062.9,726.9 1063.4,728.2 1064.1,728.1 1064.9,728.7 1065.2,728.2 1065.4,723.9 1065.7,727.9 1065.9,728.9 1066.2,732.2 1066.4,729.0 1066.7,730.0 1066.9,726.5 1067.2,732.2 1067.4,731.0 1067.7,731.9 1067.9,730.4 1068.2,733.8 1068.4,729.7 1068.7,729.6 1068.9,730.3 1069.2,729.6 1069.4,728.1 1069.7,728.9 1069.9,728.6 1070.2,731.4 1070.5,733.6 1070.7,730.2 1071.0,729.0 1071.2,729.3 1071.5,728.1 1071.7,729.2 1072.0,731.2 1072.2,731.6 1072.5,731.3 1072.7,731.2 1073.0,728.8 1073.2,729.9 1073.5,730.8 1073.7,729.1 1074.0,733.1 1074.2,734.1 1074.5,732.1 1074.7,731.3 1075.0,729.0 1075.2,727.3 1075.5,730.0 1076.3,727.1 1076.5,726.4 1076.8,725.3 1077.0,723.9 1077.3,722.9 1077.5,721.7 1077.8,720.5 1078.0,719.4 1078.3,718.6 1078.5,718.1 1078.8,717.9 1079.1,717.9 1079.3,717.9 1079.6,717.9 1079.8,717.9 1080.1,718.0 1080.3,717.9 1080.6,718.0 1080.8,718.0 1081.1,718.4 1081.4,718.0 1081.6,718.0 1081.9,717.3 1082.6,718.3 1083.4,718.1 1083.7,718.1 1083.9,721.7 1084.2,715.8 1084.4,721.8 1084.7,722.2 1084.9,724.8 1085.2,724.9 1085.4,722.9 1085.7,723.8 1086.0,721.1 1086.2,725.0 1086.5,722.6 1086.7,721.7 1087.0,729.3 1087.2,729.9 1087.5,726.1 1087.7,727.6 1088.0,727.4 1088.3,733.2 1088.5,725.1 1088.8,732.0 1089.0,728.2 1089.3,730.7 1089.6,729.4 1089.8,733.5 1090.1,733.1 1090.3,730.3 1090.6,733.8 1090.9,733.6 1091.1,735.0 1091.4,729.8 1091.7,734.5 1091.9,732.9 1092.2,733.9 1092.4,730.1 1092.7,734.0 1093.0,739.0 1093.2,734.0 1093.5,735.2 1093.7,730.9 1094.0,733.9 1094.2,734.8 1094.5,734.8 1094.7,732.0 1095.0,735.4 1095.2,733.7 1095.5,736.8 1095.7,732.2 1096.0,737.6 1096.2,732.6 1096.5,732.4 1096.7,736.1 1097.0,736.5 1097.2,736.2 1097.5,734.0 1097.7,734.7 1098.0,735.4 1098.3,733.1 1098.5,737.6 1098.8,730.8 1099.0,731.9 1099.3,731.8 1099.5,735.4 1099.8,730.7 1100.0,735.7 1100.3,729.8 1100.5,729.6 1100.8,734.1 1101.0,734.0 1101.3,732.1 1101.5,735.8 1101.8,731.5 1102.0,731.2 1102.3,731.7 1102.5,735.0 1102.8,731.4 1103.0,735.9 1103.3,731.4 1103.6,733.9 1103.8,732.6 1104.1,731.5 1104.4,731.7 1104.7,729.2 1104.9,722.0 1105.2,727.2 1105.5,725.8 1105.7,722.8 1106.0,724.8 1106.8,725.3 1107.5,724.4 1108.3,724.6 1108.6,724.1 1108.8,723.9 1109.1,723.5 1109.3,723.6 1109.6,723.4 1109.8,723.4 1110.1,723.0 1110.4,722.8 1110.6,722.6 1110.9,722.4 1111.1,722.2 1111.4,722.0 1111.6,721.9 1111.9,721.9 1112.2,721.9 1112.4,722.0 1112.7,722.2 1112.9,722.4 1113.2,722.7 1113.5,722.9 1113.7,723.2 1114.0,723.4 1114.2,723.3 1114.5,723.8 1114.8,724.0 1115.0,724.6 1115.8,725.6 1116.6,724.8 1116.9,720.5 1117.1,720.4 1117.4,725.0 1117.6,724.9 1117.9,725.3 1118.1,725.6 1118.4,722.6 1118.6,727.8 1118.9,726.5 1119.1,725.6 1119.4,724.2 1119.6,723.2 1119.9,724.8 1120.2,723.7 1120.4,726.2 1120.7,725.9 1120.9,727.8 1121.2,726.8 1121.4,725.5 1121.7,729.5 1121.9,723.9 1122.2,724.3 1122.5,728.6 1122.7,726.9 1123.0,725.0 1123.2,725.2 1123.5,728.8 1123.7,732.3 1124.0,732.7 1124.2,729.5 1124.5,730.0 1124.8,729.3 1125.0,727.9 1125.2,734.1 1125.5,729.5 1125.8,728.7 1126.0,731.3 1126.2,732.1 1126.5,729.4 1126.8,732.1 1127.0,726.3 1127.2,730.1 1127.5,730.4 1127.8,729.9 1128.0,730.4 1128.2,729.2 1128.5,730.0 1128.8,723.8 1129.0,726.9 1129.2,730.4 1129.5,725.8 1129.8,726.3 1130.0,732.8 1130.2,728.3 1130.5,728.7 1130.8,728.8 1131.0,731.9 1131.2,727.2 1131.5,725.8 1131.8,728.3 1132.0,730.8 1132.2,723.4 1132.5,727.4 1132.8,727.2 1133.0,726.8 1133.3,728.1 1133.5,729.4 1133.8,728.8 1134.1,724.6 1134.3,727.8 1134.6,728.1 1134.8,728.5 1135.1,731.1 1135.4,728.1 1135.6,727.5 1135.9,728.7 1136.1,729.3 1136.4,730.9 1136.7,725.5 1136.9,726.5 1137.2,729.6 1137.4,732.0 1137.7,730.0 1138.0,730.2 1138.2,731.2 1138.5,735.0 1138.7,731.5 1139.0,732.3 1139.2,731.8 1139.5,734.5 1139.7,733.7 1140.0,732.3 1140.2,734.8 1140.5,734.5 1140.7,732.7 1141.0,735.9 1141.2,739.2 1141.5,732.3 1141.7,732.7 1142.0,735.2 1142.2,735.3 1142.5,736.6 1142.7,736.3 1143.0,736.7 1143.3,737.0 1143.5,739.1 1143.8,739.4 1144.0,731.5 1144.3,737.5 1144.5,736.2 1144.8,737.3 1145.0,736.1 1145.3,736.7 1145.5,735.2 1145.8,734.2 1146.0,735.2 1146.3,737.3 1146.5,735.5 1146.8,735.1 1147.0,738.0 1147.3,737.1 1147.5,733.0 1147.8,733.1 1148.0,734.4 1148.3,734.7 1148.6,735.8 1148.8,737.1 1149.1,730.8 1149.3,737.8 1149.6,734.8 1149.9,735.2 1150.1,736.6 1150.4,735.3 1150.7,735.1 1150.9,737.0 1151.2,737.4 1151.5,732.2 1151.7,731.1 1152.0,732.3 1152.2,735.3 1152.5,734.7" fill="none" stroke="#0000ff" stroke-width="5.0" stroke-linejoin="round" stroke-linecap="butt" shape-rendering="crispEdges"/>
<path d="M142.0,1238.0 142.2,1243.7 142.5,1237.1 142.8,1239.8 143.0,1239.6 143.2,1241.4 143.5,1236.6 143.8,1239.2 144.0,1238.7 144.2,1238.3 144.5,1239.1 144.8,1240.2 145.0,1241.0 145.2,1239.9 145.5,1243.2 145.8,1241.3 146.0,1237.1 146.2,1245.9 146.5,1243.5 146.8,1242.6 147.0,1241.8 147.3,1244.2 147.5,1244.1 147.8,1243.7 148.0,1241.7 148.3,1244.1 148.5,1240.1 148.8,1247.0 149.1,1240.8 149.3,1243.2 149.6,1243.8 149.8,1244.3 150.1,1243.2 150.3,1244.9 150.6,1238.1 150.9,1243.3 151.1,1243.2 151.4,1242.6 151.6,1247.1 151.9,1241.4 152.1,1243.4 152.4,1239.0 152.6,1244.3 152.9,1244.0 153.2,1240.0 153.4,1240.2 153.7,1249.3 153.9,1245.5 154.2,1243.9 154.4,1244.4 154.7,1240.7 154.9,1241.6 155.2,1245.1 155.4,1239.2 155.7,1244.8 155.9,1240.2 156.2,1244.6 156.4,1241.7 156.7,1248.4 156.9,1246.8 157.2,1243.2 157.5,1240.1 157.7,1242.7 158.0,1244.4 158.2,1242.3 158.5,1245.3 158.7,1247.0 159.0,1244.6 159.2,1243.8 159.5,1246.7 159.7,1244.2 160.0,1246.9 160.2,1244.2 160.5,1248.8 160.7,1244.4 161.0,1242.6 161.2,1245.4 161.5,1245.5 161.8,1243.7 162.0,1243.0 162.3,1244.9 162.5,1246.9 162.8,1240.1 163.0,1245.0 163.3,1244.7 163.5,1244.7 163.8,1246.9 164.0,1242.0 164.3,1246.6 164.5,1244.5 164.8,1245.3 165.0,1244.5 165.3,1244.2 165.6,1243.7 165.8,1245.9 166.1,1249.9 166.3,1247.4 166.6,1246.9 166.8,1246.2 167.1,1243.8 167.3,1246.3 167.6,1249.7 167.8,1241.9 168.1,1246.8 168.3,1247.2 168.6,1245.5 168.8,1246.7 169.1,1248.1 169.3,1250.0 169.6,1247.8 169.9,1248.7 170.1,1245.6 170.4,1246.7 170.6,1245.2 170.9,1245.4 171.1,1243.7 171.4,1246.3 171.6,1248.1 171.9,1244.3 172.1,1245.3 172.4,1246.1 172.6,1244.7 172.9,1246.9 173.1,1245.3 173.4,1241.9 173.6,1242.2 173.9,1246.3 174.2,1246.1 174.4,1247.2 174.7,1245.2 174.9,1245.1 175.2,1240.9 175.4,1247.8 175.7,1242.4 175.9,1246.9 176.2,1241.9 176.4,1243.0 176.7,1244.8 176.9,1243.5 177.2,1242.8 177.4,1246.5 177.7,1244.5 178.0,1246.0 178.2,1245.4 178.5,1243.7 178.7,1242.6 179.0,1243.5 179.2,1243.4 179.5,1244.6 179.7,1246.5 180.0,1244.3 180.2,1242.9 180.5,1243.3 180.7,1247.8 181.0,1245.2 181.2,1245.4 181.5,1245.5 181.7,1246.3 182.0,1245.3 182.3,1247.7 182.5,1246.9 182.8,1239.3 183.0,1244.8 183.3,1250.9 183.5,1242.2 183.8,1245.5 184.0,1247.7 184.3,1245.2 184.5,1248.4 184.8,1242.4 185.0,1242.4 185.3,1244.9 185.5,1243.7 185.8,1243.0 186.0,1246.8 186.3,1245.5 186.6,1246.1 186.8,1245.5 187.1,1244.6 187.3,1246.2 187.6,1245.3 187.8,1243.9 188.1,1246.8 188.3,1246.5 188.6,1245.8 188.9,1247.2 189.1,1243.1 189.4,1245.3 189.6,1244.5 189.9,1248.8 190.1,1246.9 190.4,1250.6 190.6,1249.3 190.9,1244.9 191.2,1243.2 191.4,1246.9 191.7,1245.1 191.9,1245.4 192.2,1243.4 192.4,1247.2 192.7,1246.3 192.9,1246.8 193.2,1246.6 193.4,1243.8 193.7,1240.7 194.0,1245.3 194.2,1244.4 194.5,1244.7 194.7,1248.1 195.0,1245.7 195.2,1249.4 195.5,1246.4 195.7,1247.6 196.0,1246.0 196.3,1247.2 196.5,1247.9 196.8,1243.1 197.0,1248.6 197.3,1246.3 197.5,1243.8 197.8,1247.5 198.0,1246.9 198.3,1249.1 198.5,1247.8 198.8,1247.0 199.0,1242.4 199.3,1250.0 199.5,1249.6 199.8,1248.0 200.0,1247.3 200.3,1249.1 200.6,1244.3 200.8,1247.9 201.1,1246.3 201.3,1244.0 201.6,1247.2 201.8,1247.1 202.1,1250.3 202.3,1248.5 202.6,1242.7 202.8,1241.9 203.1,1246.2 203.3,1245.9 203.6,1244.3 203.8,1243.1 204.1,1246.0 204.3,1243.8 204.6,1246.5 204.9,1244.7 205.1,1248.1 205.4,1246.5 205.6,1244.0 205.9,1243.0 206.1,1245.0 206.4,1249.2 206.6,1243.9 206.9,1248.9 207.2,1242.9 207.4,1244.0 207.7,1245.9 207.9,1242.4 208.2,1244.1 208.4,1240.7 208.7,1245.1 209.0,1246.1 209.2,1241.8 209.5,1243.5 209.7,1242.0 210.0,1237.8 210.2,1248.3 210.5,1243.8 210.7,1244.1 211.0,1242.0 211.8,1239.6 212.5,1237.8 212.8,1237.7 213.0,1236.8 213.3,1236.1 213.5,1234.6 213.8,1233.3 214.0,1232.2 214.3,1230.6 214.5,1229.3 214.8,1228.0 215.0,1226.8 215.3,1225.9 215.5,1225.3 215.8,1225.1 216.1,1225.3 216.3,1226.0 216.6,1227.0 216.8,1228.4 217.1,1229.9 217.3,1231.3 217.6,1233.0 217.8,1234.5 218.1,1236.1 218.3,1237.2 218.6,1238.4 218.8,1239.8 219.6,1242.0 219.8,1239.7 220.1,1243.6 220.3,1244.9 220.6,1244.9 220.8,1246.9 221.1,1242.3 221.3,1246.0 221.6,1245.6 221.8,1243.9 222.1,1242.8 222.3,1246.8 222.6,1243.4 222.8,1244.6 223.1,1243.3 223.3,1249.8 223.6,1245.9 223.8,1245.1 224.1,1245.9 224.3,1246.2 224.6,1247.2 224.8,1243.3 225.1,1244.8 225.3,1248.9 225.6,1250.5 225.8,1245.9 226.1,1248.5 226.3,1248.8 226.6,1247.3 226.8,1243.5 227.1,1248.0 227.3,1246.3 227.6,1250.9 227.8,1248.5 228.1,1248.9 228.3,1245.7 228.6,1249.5 228.8,1244.7 229.1,1249.8 229.3,1252.5 229.6,1246.6 229.8,1251.4 230.1,1252.7 230.3,1249.1 230.6,1252.2 230.8,1249.9 231.1,1248.6 231.3,1245.2 231.6,1247.4 231.8,1246.5 232.1,1255.5 232.3,1250.7 232.6,1249.7 232.8,1247.1 233.1,1254.2 233.3,1247.7 233.6,1250.4 233.9,1253.8 234.1,1252.9 234.4,1250.6 234.6,1248.9 234.9,1250.3 235.1,1247.4 235.4,1252.0 235.6,1254.4 235.9,1252.5 236.1,1252.9 236.4,1248.9 236.6,1251.2 236.9,1248.2 237.1,1249.5 237.4,1252.2 237.7,1256.3 237.9,1250.7 238.2,1250.7 238.4,1246.2 238.7,1251.0 238.9,1248.5 239.2,1247.4 239.4,1247.2 239.7,1251.0 239.9,1249.7 240.2,1252.2 240.4,1250.1 240.7,1250.7 240.9,1254.1 241.2,1250.7 241.5,1251.5 241.7,1250.4 242.0,1251.1 242.2,1247.2 242.5,1243.4 242.7,1242.8 243.0,1240.0 243.2,1243.4 243.5,1240.7 243.7,1241.8 244.0,1241.5 244.2,1236.7 244.5,1238.0 244.7,1239.5 245.0,1235.7 245.2,1236.7 245.5,1233.5 245.8,1232.7 246.0,1230.5 246.3,1231.8 246.5,1227.6 246.8,1233.2 247.0,1230.0 247.3,1233.9 247.5,1227.6 247.8,1230.3 248.0,1230.5 248.3,1228.8 248.5,1229.8 248.8,1226.8 249.0,1225.7 249.3,1224.5 249.5,1226.1 249.8,1227.0 250.6,1219.0 251.3,1204.7 251.6,1199.0 251.8,1192.0 252.1,1184.2 252.3,1175.5 252.6,1166.5 252.8,1157.7 253.1,1150.2 253.3,1145.1 253.6,1143.3 253.9,1145.4 254.1,1151.1 254.4,1159.4 254.7,1168.9 254.9,1178.6 255.2,1187.9 255.4,1196.0 255.7,1203.2 256.0,1209.7 256.8,1223.2 257.3,1229.0 257.6,1227.7 257.8,1229.6 258.1,1232.4 258.4,1229.8 258.6,1232.5 258.9,1231.7 259.1,1239.0 259.4,1237.2 259.7,1237.3 259.9,1233.6 260.2,1237.3 260.5,1236.0 260.7,1237.8 261.0,1237.6 261.3,1235.4 261.5,1234.3 261.8,1231.8 262.0,1231.0 262.3,1230.7 262.5,1226.1 262.8,1224.4 263.0,1224.4 263.3,1223.0 263.5,1220.2 263.8,1219.4 264.0,1217.5 264.3,1215.9 264.5,1215.0 264.8,1212.0 265.6,1208.0 266.3,1202.2 266.8,1196.8 267.1,1193.5 267.3,1189.1 267.6,1184.2 267.8,1178.6 268.1,1172.4 268.3,1165.6 268.6,1158.5 268.8,1151.5 269.1,1145.6 269.3,1141.5 269.6,1140.1 269.9,1141.6 270.1,1145.7 270.4,1151.7 270.6,1158.8 270.9,1166.1 271.1,1173.2 271.4,1179.4 271.6,1185.0 271.9,1189.8 272.1,1194.1 272.6,1201.3 273.4,1207.6 273.7,1211.0 273.9,1211.9 274.2,1214.0 274.4,1215.1 274.7,1219.6 275.0,1220.5 275.2,1225.9 275.5,1225.3 275.7,1229.3 276.0,1229.4 276.2,1233.7 276.5,1237.7 276.8,1238.5 277.0,1240.5 277.3,1243.2 277.5,1246.4 277.8,1248.5 278.1,1250.5 278.3,1247.8 278.6,1243.5 278.8,1249.0 279.1,1250.5 279.3,1253.5 279.6,1248.5 279.8,1248.4 280.1,1246.7 280.3,1249.6 280.6,1252.0 280.8,1245.4 281.1,1247.9 281.3,1245.2 281.6,1245.9 281.8,1247.1 282.1,1248.6 282.4,1245.4 282.6,1246.6 282.9,1250.5 283.1,1248.4 283.4,1248.8 283.6,1248.0 283.9,1246.6 284.1,1247.9 284.4,1248.1 284.6,1246.8 284.9,1249.2 285.1,1246.7 285.4,1248.8 285.6,1246.6 285.9,1248.2 286.1,1244.9 286.4,1246.4 286.7,1243.9 286.9,1241.2 287.2,1245.6 287.4,1242.7 287.7,1240.8 288.0,1240.6 288.2,1235.9 288.5,1236.7 289.2,1237.2 290.0,1235.4 290.8,1235.9 291.0,1235.7 291.2,1235.6 291.5,1235.8 291.8,1235.2 292.0,1234.9 292.2,1234.6 292.5,1234.4 292.8,1234.1 293.0,1233.9 293.2,1233.5 293.5,1233.2 293.8,1233.0 294.0,1232.8 294.2,1232.6 294.5,1232.6 294.8,1232.8 295.0,1233.4 295.3,1234.3 295.5,1235.4 295.8,1236.7 296.0,1238.2 296.3,1239.5 296.5,1240.8 296.8,1241.9 297.0,1243.1 297.3,1244.2 297.5,1245.1 297.8,1245.9 298.0,1246.7 298.3,1247.6 299.0,1248.6 299.8,1251.0 300.3,1250.7 300.6,1248.1 300.8,1248.7 301.1,1244.5 301.3,1248.5 301.6,1254.4 301.8,1249.6 302.1,1247.5 302.3,1250.3 302.6,1248.8 302.8,1249.2 303.1,1254.9 303.3,1253.8 303.6,1252.7 303.8,1252.7 304.1,1246.4 304.4,1243.9 304.6,1250.1 304.9,1249.1 305.1,1248.2 305.4,1247.6 305.6,1249.5 305.9,1249.0 306.1,1248.1 306.4,1248.5 306.6,1246.8 306.9,1246.2 307.1,1250.2 307.4,1246.2 307.6,1251.4 307.9,1248.1 308.1,1246.6 308.4,1248.9 308.7,1245.0 308.9,1245.5 309.2,1245.0 309.4,1245.7 309.7,1247.2 309.9,1250.3 310.2,1246.5 310.4,1242.7 310.7,1243.1 310.9,1240.6 311.2,1246.5 311.4,1246.7 311.7,1245.3 311.9,1245.2 312.2,1244.2 312.5,1244.9 312.7,1244.2 313.0,1244.2 313.2,1242.7 313.5,1239.3 313.7,1243.4 314.0,1243.8 314.3,1236.3 314.5,1239.1 314.8,1236.4 315.0,1239.8 315.3,1237.4 315.5,1240.9 315.8,1239.7 316.1,1235.5 316.3,1234.9 316.6,1234.2 316.8,1236.4 317.1,1232.3 317.3,1235.0 317.6,1233.5 318.4,1230.3 319.1,1226.8 319.4,1224.4 319.7,1222.5 319.9,1220.6 320.2,1217.8 320.4,1215.1 320.7,1212.3 321.0,1209.3 321.2,1206.3 321.5,1203.4 321.7,1200.9 322.0,1198.9 322.2,1197.6 322.5,1197.1 322.8,1197.2 323.0,1197.6 323.3,1198.2 323.5,1198.9 323.8,1199.7 324.0,1200.7 324.3,1201.4 324.5,1202.2 324.8,1202.8 325.0,1203.7 325.3,1204.3 325.5,1205.2 325.8,1205.4 326.3,1206.8 327.0,1207.7 327.3,1207.6 327.6,1211.6 327.8,1213.6 328.1,1216.4 328.4,1219.6 328.6,1220.8 328.9,1224.2 329.2,1226.6 329.4,1229.5 329.7,1233.1 330.0,1235.3 330.2,1240.6 330.5,1242.0 331.3,1241.8 331.8,1240.2 332.0,1240.2 332.3,1239.2 332.5,1238.6 332.8,1238.0 333.0,1237.3 333.3,1236.6 333.5,1235.8 333.8,1235.2 334.0,1234.6 334.3,1234.1 334.5,1233.8 334.8,1233.7 335.1,1233.9 335.3,1234.3 335.6,1235.0 335.9,1235.9 336.1,1236.9 336.4,1238.1 336.7,1239.0 336.9,1240.0 337.2,1241.0 338.0,1243.1 338.8,1241.7 339.3,1241.8 339.5,1242.1 339.8,1241.0 340.0,1240.6 340.3,1240.4 340.5,1239.6 340.8,1239.1 341.0,1238.6 341.3,1238.0 341.5,1237.6 341.8,1237.2 342.0,1237.0 342.3,1236.9 342.6,1237.1 342.8,1237.7 343.1,1238.7 343.3,1239.9 343.6,1241.2 343.8,1242.5 344.1,1244.0 344.3,1245.4 344.6,1247.1 344.8,1247.8 345.3,1250.3 345.6,1250.7 345.9,1251.9 346.1,1250.0 346.4,1255.8 346.6,1248.8 346.9,1250.1 347.1,1248.0 347.4,1253.1 347.6,1248.0 347.9,1252.3 348.1,1254.0 348.4,1254.0 348.6,1250.8 348.9,1256.6 349.1,1252.1 349.4,1253.8 349.6,1249.6 349.9,1251.3 350.1,1246.8 350.4,1251.2 350.6,1253.3 350.9,1255.9 351.1,1250.8 351.4,1248.5 351.6,1250.0 351.9,1253.3 352.1,1251.0 352.4,1254.7 352.6,1252.6 352.9,1254.2 353.1,1252.8 353.9,1252.6 354.6,1251.7 355.4,1252.1 356.1,1252.0 356.9,1251.0 357.4,1250.9 357.7,1250.1 357.9,1250.4 358.2,1250.1 358.4,1249.8 358.7,1249.3 358.9,1248.9 359.2,1248.7 359.4,1247.9 359.7,1247.3 359.9,1246.6 360.2,1246.0 360.4,1245.4 360.7,1244.8 360.9,1244.2 361.2,1243.8 361.4,1243.5 361.7,1243.4 361.9,1243.4 362.2,1243.6 362.4,1243.8 362.7,1244.0 362.9,1244.3 363.2,1244.6 363.4,1244.8 363.7,1245.1 363.9,1245.3 364.2,1245.6 364.4,1245.8 364.7,1245.7 364.9,1246.2 365.2,1246.4 365.4,1247.1 366.2,1246.5 366.9,1246.0 367.7,1248.3 368.2,1247.4 368.5,1248.2 368.7,1249.5 369.0,1247.0 369.2,1249.5 369.5,1247.6 369.7,1246.0 370.0,1246.0 370.2,1249.2 370.5,1248.7 370.7,1248.2 371.0,1247.6 371.2,1248.2 371.5,1250.7 371.7,1251.6 372.0,1248.5 372.2,1249.8 372.5,1245.0 372.7,1246.8 373.0,1247.9 373.2,1247.6 373.5,1251.4 373.7,1245.1 374.0,1251.2 374.2,1251.7 374.5,1255.4 374.7,1249.2 375.0,1251.5 375.3,1254.0 375.5,1252.9 375.8,1248.7 376.0,1250.1 376.3,1248.4 376.5,1251.3 376.8,1252.9 377.0,1254.6 377.3,1252.8 377.5,1253.7 377.8,1254.2 378.0,1250.0 378.3,1253.5 378.5,1254.4 378.8,1251.8 379.0,1250.1 379.3,1252.8 379.5,1252.9 379.8,1254.3 380.0,1248.6 380.3,1252.0 380.5,1257.7 380.8,1256.1 381.0,1252.9 381.3,1252.7 381.5,1252.9 381.8,1253.6 382.6,1251.9 383.3,1248.5 384.1,1246.2 384.6,1243.2 384.8,1241.5 385.1,1239.6 385.3,1237.4 385.6,1235.3 385.8,1232.4 386.1,1229.5 386.3,1226.4 386.6,1223.0 386.8,1219.6 387.1,1216.2 387.3,1212.9 387.6,1210.0 387.8,1207.7 388.1,1206.2 388.3,1205.7 388.6,1206.4 388.8,1208.4 389.1,1211.5 389.4,1215.4 389.6,1219.7 389.9,1223.8 390.2,1228.5 390.4,1232.7 390.7,1236.5 391.5,1246.1 392.3,1238.6 392.5,1236.4 392.8,1233.4 393.0,1229.9 393.3,1226.8 393.5,1223.5 393.8,1220.2 394.0,1217.4 394.3,1215.2 394.5,1213.7 394.8,1213.2 395.1,1213.5 395.3,1214.5 395.6,1216.1 395.9,1218.0 396.1,1220.1 396.4,1222.5 396.9,1226.6 397.7,1222.9 398.0,1220.4 398.2,1218.5 398.5,1216.2 398.8,1214.4 399.0,1212.4 399.3,1210.6 399.6,1209.2 399.8,1208.2 400.1,1207.9 400.4,1208.0 400.6,1208.5 400.9,1209.1 401.1,1209.9 401.4,1210.8 401.6,1211.9 401.9,1212.8 402.1,1213.7 402.4,1214.5 402.6,1215.3 403.1,1215.8 403.4,1217.3 403.7,1218.6 403.9,1221.2 404.2,1225.2 404.5,1224.0 404.7,1228.8 405.0,1230.1 405.3,1233.5 405.5,1236.2 405.8,1236.7 406.1,1240.8 406.3,1242.8 406.6,1244.0 406.9,1239.7 407.1,1247.0 407.4,1239.5 407.6,1238.5 407.9,1243.2 408.1,1238.7 408.4,1240.3 408.6,1239.1 408.9,1236.2 409.2,1241.7 409.4,1240.8 409.7,1237.0 409.9,1239.8 410.2,1235.6 410.4,1235.6 410.7,1233.7 411.0,1230.7 411.2,1232.4 411.5,1230.4 411.7,1232.9 412.0,1231.7 412.2,1229.5 412.5,1233.2 412.7,1230.5 413.0,1229.0 413.3,1227.1 413.5,1221.4 413.8,1217.8 414.0,1213.8 414.3,1211.1 414.5,1207.1 414.8,1203.6 415.0,1201.6 415.3,1197.1 415.5,1192.1 415.8,1189.4 416.0,1185.2 416.3,1181.8 417.1,1165.5 417.8,1139.6 418.4,1115.4 418.6,1099.5 418.9,1081.4 419.1,1060.0 419.4,1035.2 419.7,1007.2 419.9,976.3 420.2,943.7 420.4,912.1 420.7,884.8 420.9,866.0 421.2,859.3 421.5,868.6 421.7,894.5 422.0,932.1 422.2,975.6 422.5,1020.2 422.8,1062.3 423.0,1100.7 423.5,1163.6 423.8,1188.2 424.6,1182.4 424.9,1181.1 425.1,1178.9 425.4,1176.6 425.7,1174.2 425.9,1171.9 426.2,1169.9 426.5,1168.2 426.7,1167.2 427.0,1166.8 427.3,1167.4 427.5,1169.1 427.8,1171.8 428.0,1175.1 428.3,1178.8 428.6,1182.9 428.8,1186.6 429.1,1190.3 429.3,1193.4 429.6,1197.0 429.8,1199.8 430.1,1202.3 430.9,1208.5 431.4,1211.7 432.1,1203.0 432.4,1199.8 432.6,1196.1 432.9,1192.4 433.1,1187.6 433.4,1183.2 433.6,1178.7 433.9,1174.4 434.1,1170.7 434.4,1167.7 434.6,1165.8 434.9,1165.1 435.1,1165.5 435.4,1166.8 435.6,1168.8 435.9,1171.3 436.1,1174.1 436.4,1177.0 436.6,1180.1 436.9,1182.9 437.1,1186.2 437.4,1188.1 437.9,1193.1 438.4,1196.0 439.2,1191.3 439.9,1183.9 440.7,1174.9 441.4,1160.1 442.2,1138.6 442.5,1129.0 442.7,1117.6 443.0,1103.9 443.2,1088.6 443.5,1070.5 443.7,1049.7 444.0,1026.0 444.2,1000.1 444.5,973.1 444.7,946.8 445.0,924.3 445.2,909.0 445.5,903.5 445.8,910.0 446.0,928.2 446.3,954.7 446.5,985.5 446.8,1017.0 447.1,1046.9 447.3,1074.2 447.6,1098.2 447.8,1118.8 448.6,1164.6 448.9,1168.7 449.1,1174.8 449.4,1179.6 449.7,1185.3 449.9,1189.7 450.2,1192.4 450.5,1200.3 450.7,1203.6 451.0,1210.5 451.3,1214.9 451.5,1221.1 451.8,1224.8 452.1,1220.1 452.3,1223.0 452.6,1225.5 452.8,1226.3 453.1,1225.9 453.3,1227.5 453.6,1226.4 453.8,1230.5 454.1,1227.5 454.3,1228.6 454.6,1228.2 454.8,1228.7 455.1,1231.2 455.3,1236.0 455.6,1231.7 455.8,1230.9 456.1,1235.2 456.3,1237.5 456.6,1232.7 456.8,1232.1 457.1,1231.2 457.3,1238.8 457.6,1239.2 457.8,1237.6 458.1,1235.1 458.3,1234.3 458.6,1241.1 458.8,1233.2 459.1,1231.4 459.3,1235.2 459.6,1232.7 459.8,1228.1 460.1,1228.2 460.3,1233.3 460.6,1228.7 460.8,1229.7 461.1,1226.2 461.3,1224.3 461.6,1224.2 461.8,1227.2 462.1,1229.1 462.3,1223.9 462.6,1219.2 462.8,1225.5 463.1,1219.9 463.3,1220.2 463.6,1220.5 464.4,1216.6 465.1,1211.5 465.9,1204.4 466.6,1194.1 467.4,1179.9 468.2,1158.7 468.9,1126.2 469.2,1112.3 469.4,1095.5 469.7,1075.8 469.9,1052.9 470.2,1026.2 470.4,995.4 470.7,960.8 470.9,922.9 471.2,883.3 471.4,844.8 471.7,812.0 471.9,789.5 472.2,781.5 472.5,789.8 472.7,813.2 473.0,847.3 473.2,887.2 473.5,928.4 473.7,967.9 474.0,1003.9 474.2,1035.8 474.5,1063.3 474.7,1087.4 475.2,1125.7 476.0,1163.8 476.5,1181.8 476.8,1185.5 477.0,1185.3 477.3,1180.6 477.5,1188.7 477.8,1185.8 478.0,1188.1 478.3,1189.3 478.5,1189.8 478.8,1187.1 479.0,1191.9 479.3,1194.7 479.5,1194.4 479.8,1194.7 480.1,1197.2 480.4,1203.9 480.6,1209.9 480.9,1212.2 481.2,1216.2 481.5,1221.4 482.3,1215.9 483.0,1209.9 483.3,1206.8 483.5,1203.6 483.8,1199.8 484.0,1196.3 484.3,1192.1 484.5,1187.5 484.8,1183.0 485.0,1178.3 485.3,1173.9 485.5,1170.0 485.8,1166.9 486.0,1164.9 486.3,1164.2 486.6,1164.4 486.8,1164.8 487.1,1165.5 487.4,1166.4 487.6,1167.3 487.9,1168.3 488.1,1169.3 488.4,1170.3 488.7,1170.9 488.9,1172.0 489.2,1172.7 489.4,1173.3 490.2,1175.1 490.5,1175.3 490.8,1178.2 491.0,1183.0 491.3,1188.4 491.5,1191.0 491.8,1194.2 492.1,1198.1 492.3,1203.5 492.6,1205.5 492.8,1208.7 493.1,1212.6 493.4,1216.6 493.6,1221.5 493.9,1223.6 494.1,1227.8 494.4,1232.1 495.2,1230.7 495.5,1230.4 495.7,1229.9 496.0,1229.2 496.2,1228.6 496.5,1227.9 496.8,1227.2 497.0,1226.6 497.3,1226.0 497.6,1225.5 497.8,1225.2 498.1,1225.1 498.4,1225.3 498.6,1226.0 498.9,1227.1 499.1,1228.5 499.4,1230.0 499.6,1231.7 499.9,1233.3 500.1,1234.8 500.4,1236.7 500.6,1237.6 500.9,1238.9 501.1,1240.6 501.9,1242.9 502.4,1244.0 503.2,1243.1 503.9,1240.2 504.7,1237.9 505.4,1235.4 506.2,1229.8 506.9,1223.2 507.7,1213.8 507.9,1209.0 508.2,1203.7 508.4,1197.3 508.7,1190.3 508.9,1181.9 509.2,1171.9 509.4,1160.9 509.7,1148.2 509.9,1134.4 510.2,1120.0 510.4,1106.0 510.7,1094.1 510.9,1086.0 511.2,1083.1 511.5,1086.3 511.7,1095.2 512.0,1108.1 512.2,1123.2 512.5,1138.8 512.7,1153.7 513.0,1167.1 513.2,1179.0 513.5,1189.2 513.8,1198.3 514.0,1205.8 514.3,1212.4 515.0,1226.6 515.8,1235.3 516.6,1242.7 517.3,1245.7 518.1,1249.3 518.4,1249.0 518.6,1250.5 518.9,1244.3 519.1,1242.9 519.4,1250.0 519.6,1249.4 519.9,1248.5 520.1,1246.9 520.4,1247.7 520.7,1248.4 520.9,1244.6 521.2,1247.6 521.4,1245.0 521.7,1251.4 521.9,1247.3 522.2,1246.9 522.4,1248.4 522.7,1248.1 523.0,1247.9 523.2,1244.0 523.5,1245.7 523.7,1247.2 524.0,1245.5 524.2,1245.0 524.5,1243.3 524.7,1244.8 525.0,1244.2 525.3,1242.4 525.5,1237.0 525.8,1233.8 526.1,1230.9 526.3,1227.5 526.6,1227.1 526.9,1224.6 527.1,1220.3 527.4,1216.8 527.7,1215.0 527.9,1211.6 528.2,1207.6 529.0,1197.7 529.3,1193.9 529.5,1189.8 529.8,1185.9 530.0,1181.7 530.3,1178.2 530.6,1175.4 530.8,1173.5 531.1,1172.9 531.4,1173.6 531.6,1175.5 531.9,1178.5 532.1,1182.3 532.4,1186.5 532.6,1191.0 532.9,1195.3 533.2,1199.6 533.4,1203.3 533.7,1207.1 534.2,1214.4 534.7,1218.4 535.0,1220.1 535.2,1221.4 535.5,1223.6 535.8,1225.5 536.0,1228.7 536.3,1229.3 536.6,1230.7 536.8,1231.0 537.1,1234.6 537.4,1235.9 537.6,1238.0 537.9,1240.0 538.7,1239.1 539.2,1237.5 539.4,1236.8 539.7,1236.1 539.9,1235.2 540.2,1234.2 540.4,1233.4 540.7,1232.4 540.9,1231.3 541.2,1230.4 541.4,1229.6 541.7,1228.9 541.9,1228.4 542.2,1228.3 542.5,1228.6 542.7,1229.3 543.0,1230.4 543.3,1231.8 543.5,1233.3 543.8,1234.7 544.1,1236.5 544.3,1238.1 544.6,1240.0 545.4,1242.9 546.2,1241.9 546.9,1239.0 547.7,1237.0 548.4,1232.4 549.2,1227.6 549.9,1220.9 550.7,1210.7 551.4,1194.2 551.7,1187.0 551.9,1178.6 552.2,1168.5 552.4,1157.3 552.7,1144.0 552.9,1128.9 553.2,1111.5 553.4,1092.7 553.7,1073.1 553.9,1054.2 554.2,1038.0 554.4,1026.9 554.7,1023.0 555.0,1026.9 555.2,1038.0 555.5,1054.2 555.7,1073.2 556.0,1092.7 556.2,1111.5 556.5,1128.7 556.7,1143.9 557.0,1156.8 557.2,1168.5 557.5,1178.3 557.7,1186.3 558.5,1205.1 559.2,1217.0 560.0,1225.3 560.5,1229.0 560.8,1224.0 561.0,1231.5 561.2,1229.3 561.5,1234.8 561.8,1231.1 562.0,1232.5 562.2,1235.2 562.5,1237.9 562.8,1234.5 563.0,1239.5 563.2,1237.8 563.5,1235.8 563.8,1239.9 564.0,1239.1 564.2,1238.1 564.5,1240.1 564.8,1244.0 565.0,1242.6 565.2,1242.0 565.5,1245.1 565.8,1240.8 566.0,1246.2 566.2,1248.4 566.5,1243.5 566.8,1244.3 567.0,1245.6 567.2,1247.8 567.5,1247.3 567.8,1249.7 568.0,1250.4 568.3,1247.1 568.5,1249.0 568.8,1248.7 569.0,1247.4 569.3,1244.0 569.5,1246.2 569.8,1239.8 570.1,1240.8 570.3,1241.1 570.6,1243.1 570.8,1238.3 571.1,1239.6 571.3,1240.9 571.6,1240.6 571.9,1239.1 572.1,1232.3 572.4,1233.7 572.6,1233.2 572.9,1232.6 573.1,1231.2 573.4,1229.0 573.7,1227.5 573.9,1226.7 574.2,1222.2 574.4,1225.8 574.7,1223.6 574.9,1220.4 575.2,1224.5 575.5,1219.3 575.7,1216.5 576.0,1218.1 576.2,1216.6 576.5,1215.8 576.7,1212.9 577.0,1213.6 577.3,1210.9 577.5,1212.2 577.8,1209.0 578.0,1205.1 578.3,1203.5 578.5,1205.9 578.8,1203.3 579.6,1191.4 580.4,1171.2 580.6,1161.9 580.9,1151.4 581.1,1139.7 581.4,1126.3 581.7,1112.4 581.9,1098.8 582.2,1087.1 582.4,1079.0 582.7,1076.1 583.0,1078.7 583.2,1086.0 583.5,1096.5 583.7,1108.7 584.0,1121.2 584.3,1132.9 584.5,1143.6 584.8,1153.0 585.0,1161.1 585.3,1168.0 585.8,1178.9 586.6,1190.0 587.4,1196.9 587.7,1199.1 587.9,1201.9 588.2,1206.0 588.5,1206.3 588.7,1209.3 589.0,1210.2 589.3,1214.7 589.5,1216.4 589.8,1216.8 590.1,1220.1 590.3,1222.1 590.6,1224.8 590.9,1225.8 591.1,1227.9 591.4,1230.6 591.6,1230.1 591.9,1229.4 592.1,1230.9 592.4,1235.5 592.7,1236.7 592.9,1236.6 593.2,1239.1 593.4,1239.7 593.7,1243.0 593.9,1243.5 594.2,1244.9 594.5,1246.4 594.7,1246.9 595.0,1247.0 595.2,1250.0 595.5,1252.7 595.7,1253.7 596.0,1253.9 596.8,1254.6 597.5,1253.4 598.1,1252.9 598.3,1252.5 598.6,1252.5 598.8,1252.3 599.1,1252.4 599.3,1251.7 599.6,1251.4 599.9,1251.2 600.1,1250.8 600.4,1250.5 600.6,1250.2 600.9,1250.0 601.1,1249.8 601.4,1249.8 601.7,1249.9 601.9,1250.3 602.2,1250.9 602.4,1251.6 602.7,1252.4 602.9,1253.3 603.2,1254.0 603.4,1254.9 603.7,1255.7 603.9,1256.3 604.2,1257.0 604.4,1257.9 604.7,1258.0 604.9,1258.5 605.2,1258.9 605.4,1259.3 605.7,1259.6 605.9,1259.5 606.7,1260.2 607.5,1260.6 608.2,1260.4 609.0,1262.1 609.7,1261.8 610.5,1263.3 611.0,1262.3 611.8,1260.3 612.3,1260.4 612.6,1260.3 612.8,1259.3 613.1,1258.6 613.3,1257.7 613.6,1257.2 613.8,1256.4 614.1,1255.5 614.4,1254.8 614.6,1254.1 614.9,1253.6 615.1,1253.2 615.4,1253.1 615.7,1253.1 615.9,1252.9 616.2,1252.8 616.4,1252.5 616.7,1252.2 617.0,1252.0 617.2,1251.7 617.5,1251.4 617.7,1251.1 618.0,1250.9 618.3,1250.7 618.5,1250.0 618.8,1250.4 619.3,1249.1 620.1,1249.4 620.6,1249.6 620.9,1251.1 621.1,1253.4 621.4,1251.2 621.6,1250.2 621.9,1248.8 622.2,1255.6 622.4,1255.0 622.7,1253.6 622.9,1256.6 623.2,1253.8 623.4,1259.4 623.7,1260.1 624.0,1261.1 624.2,1258.2 624.5,1263.1 624.7,1262.4 625.0,1261.2 625.3,1264.6 625.5,1257.0 625.8,1262.7 626.0,1263.3 626.3,1259.5 626.5,1262.1 626.8,1260.0 627.0,1262.8 627.3,1258.8 627.5,1259.2 627.8,1256.2 628.0,1263.3 628.3,1256.6 628.5,1255.9 628.8,1256.0 629.0,1258.0 629.3,1257.7 629.5,1258.4 629.8,1260.7 630.0,1259.2 630.3,1253.5 630.5,1256.9 630.8,1255.9 631.0,1257.8 631.3,1256.2 631.5,1258.7 631.8,1255.8 632.0,1259.7 632.3,1255.0 633.1,1252.4 633.9,1251.2 634.1,1249.9 634.4,1248.8 634.6,1247.7 634.9,1246.2 635.2,1244.7 635.4,1243.2 635.7,1241.7 636.0,1240.2 636.2,1238.9 636.5,1237.8 636.7,1237.1 637.0,1236.9 637.2,1237.1 637.5,1237.6 637.8,1238.3 638.0,1239.3 638.2,1240.4 638.5,1241.7 638.8,1242.8 639.0,1243.9 639.2,1245.3 639.5,1246.0 639.8,1246.9 640.0,1248.0 640.2,1248.4 640.5,1249.1 640.8,1249.7 641.5,1250.0 642.2,1251.5 643.0,1252.8 643.8,1251.6 644.5,1250.9 644.8,1250.9 645.0,1250.5 645.3,1249.8 645.5,1249.6 645.8,1249.1 646.0,1248.6 646.3,1247.9 646.5,1247.3 646.8,1246.8 647.0,1246.2 647.3,1245.8 647.5,1245.6 647.8,1245.5 648.1,1245.7 648.3,1246.3 648.6,1247.2 648.8,1248.2 649.1,1249.5 649.4,1250.6 649.6,1252.1 649.9,1253.3 650.1,1254.9 650.4,1255.5 650.7,1256.4 650.9,1257.4 651.7,1259.3 652.0,1257.0 652.2,1257.8 652.5,1257.3 652.7,1257.0 653.0,1254.1 653.2,1258.7 653.5,1259.4 653.7,1258.5 654.0,1256.2 654.2,1259.8 654.5,1259.2 654.7,1258.0 655.0,1258.7 655.2,1256.9 655.5,1257.9 655.7,1258.0 656.0,1253.9 656.2,1255.4 656.5,1254.7 656.7,1257.1 657.0,1256.0 657.3,1250.6 657.5,1257.3 657.8,1257.0 658.0,1256.9 658.3,1258.5 658.5,1254.6 658.8,1258.8 659.0,1256.9 659.3,1257.5 659.5,1262.3 659.8,1258.8 660.0,1262.2 660.3,1260.1 660.5,1259.8 660.8,1259.9 661.0,1257.8 661.3,1261.4 662.1,1259.8 662.6,1259.4 662.8,1259.0 663.1,1258.2 663.3,1257.6 663.6,1256.6 663.8,1256.1 664.1,1255.3 664.3,1254.4 664.6,1253.7 664.8,1253.0 665.1,1252.5 665.3,1252.1 665.6,1252.0 665.9,1252.1 666.1,1252.4 666.4,1252.8 666.6,1253.4 666.9,1254.0 667.1,1254.6 667.4,1255.3 667.6,1256.0 667.9,1256.4 668.1,1257.1 668.4,1257.6 668.6,1257.9 668.9,1258.5 669.1,1258.9 669.4,1259.5 670.1,1259.9 670.9,1259.9 671.6,1260.6 672.1,1261.2 672.4,1260.2 672.6,1260.3 672.9,1261.7 673.1,1258.0 673.4,1258.6 673.6,1259.7 673.9,1259.6 674.1,1259.9 674.4,1258.7 674.6,1260.3 674.9,1259.8 675.1,1259.7 675.4,1252.9 675.6,1258.0 675.9,1256.1 676.1,1257.7 676.4,1256.6 676.6,1257.8 676.9,1257.4 677.1,1253.6 677.4,1255.0 677.6,1252.0 677.9,1251.7 678.1,1255.5 678.4,1251.4 678.6,1255.0 678.9,1256.3 679.1,1257.4 679.4,1255.7 679.6,1248.8 679.9,1253.1 680.1,1250.6 680.4,1245.0 680.6,1246.5 680.9,1245.3 681.1,1248.7 681.4,1245.1 681.6,1239.0 681.9,1240.5 682.1,1244.2 682.4,1242.6 682.6,1240.4 682.9,1237.8 683.1,1236.6 683.4,1238.2 683.6,1236.6 683.9,1233.5 684.7,1233.5 684.9,1232.3 685.2,1231.9 685.4,1231.5 685.7,1231.1 685.9,1230.7 686.2,1230.3 686.4,1229.9 686.7,1229.6 686.9,1229.5 687.2,1229.4 687.5,1229.7 687.7,1230.5 688.0,1231.7 688.2,1233.2 688.5,1235.0 688.7,1236.9 689.0,1238.6 689.2,1240.4 689.5,1242.3 689.7,1243.5 690.0,1244.9 690.2,1245.9 691.0,1248.2 691.5,1250.7 691.8,1252.7 692.0,1250.6 692.3,1252.6 692.5,1248.3 692.8,1254.2 693.0,1255.3 693.3,1250.6 693.5,1257.2 693.8,1260.0 694.1,1250.4 694.3,1256.3 694.6,1260.5 694.8,1259.4 695.1,1256.8 695.3,1257.5 695.6,1258.6 695.9,1261.6 696.1,1258.6 696.4,1257.8 696.6,1261.9 696.9,1260.4 697.1,1266.6 697.4,1260.9 697.6,1264.5 697.9,1264.4 698.7,1264.3 699.2,1263.4 699.4,1263.3 699.7,1262.8 699.9,1262.4 700.2,1262.2 700.4,1261.6 700.7,1261.2 700.9,1260.9 701.2,1260.4 701.4,1260.0 701.7,1259.7 701.9,1259.6 702.2,1259.5 702.5,1259.6 702.7,1259.8 703.0,1260.1 703.2,1260.5 703.5,1261.0 703.7,1261.5 704.0,1262.0 704.2,1262.4 704.5,1263.1 704.7,1263.3 705.0,1263.6 705.2,1263.5 705.5,1264.3 705.7,1264.5 706.0,1265.0 706.2,1265.0 706.5,1265.2 706.8,1265.4 707.5,1265.5 708.3,1265.2 709.0,1265.7 709.8,1267.1 710.5,1267.6 710.8,1266.6 711.1,1270.1 711.3,1265.6 711.6,1268.7 711.8,1262.3 712.1,1266.7 712.3,1267.5 712.6,1266.8 712.9,1261.0 713.1,1262.9 713.4,1266.6 713.6,1260.9 713.9,1264.0 714.1,1261.7 714.4,1258.3 714.7,1263.5 714.9,1263.5 715.2,1262.1 715.4,1260.9 715.7,1262.3 715.9,1255.1 716.2,1259.3 716.5,1259.1 716.7,1263.1 717.0,1260.3 717.2,1261.6 717.5,1258.5 717.7,1259.8 718.0,1256.3 718.2,1260.1 718.5,1259.5 718.7,1257.9 719.0,1258.7 719.2,1258.9 719.5,1259.1 719.7,1260.3 720.0,1260.8 720.2,1253.6 720.5,1259.0 720.7,1261.0 721.0,1255.7 721.2,1257.9 721.5,1263.7 721.7,1256.7 722.0,1260.4 722.2,1258.6 722.5,1254.7 722.7,1257.4 723.0,1253.7 723.2,1257.1 723.5,1259.9 723.7,1259.2 724.0,1258.4 724.2,1256.4 724.5,1259.1 724.7,1260.4 725.0,1259.3 725.2,1259.7 725.5,1258.5 725.7,1258.4 726.0,1255.3 726.2,1260.7 726.5,1254.8 726.7,1255.1 727.0,1257.1 727.3,1255.2 727.5,1254.9 727.8,1259.4 728.0,1255.6 728.3,1255.2 728.5,1254.9 728.8,1255.3 729.0,1258.1 729.3,1258.2 729.6,1253.6 729.8,1258.2 730.1,1255.4 730.3,1254.5 730.6,1256.5 730.8,1253.6 731.1,1253.8 731.4,1253.1 731.6,1249.9 731.9,1249.4 732.1,1249.8 732.4,1249.7 732.6,1250.1 732.9,1250.0 733.1,1253.5 733.4,1250.7 734.1,1244.3 734.4,1242.4 734.6,1239.8 734.9,1236.7 735.1,1233.9 735.4,1230.7 735.6,1227.7 735.9,1224.6 736.1,1222.0 736.4,1219.9 736.6,1218.6 736.9,1218.1 737.2,1218.4 737.4,1219.3 737.7,1220.8 737.9,1222.6 738.2,1224.6 738.4,1226.8 738.7,1228.8 739.0,1230.8 739.2,1232.7 739.5,1234.5 739.7,1236.1 740.0,1238.0 740.7,1240.5 741.0,1241.8 741.3,1245.8 741.5,1240.9 741.8,1240.3 742.0,1236.0 742.3,1241.3 742.5,1237.6 742.8,1235.4 743.0,1239.1 743.3,1238.5 743.6,1235.3 743.8,1236.5 744.1,1229.9 744.3,1235.1 744.6,1235.1 744.8,1235.9 745.1,1236.4 745.4,1234.3 745.6,1238.1 745.9,1236.2 746.1,1234.2 746.4,1227.9 746.6,1234.6 746.9,1229.4 747.1,1230.5 747.4,1229.0 748.2,1225.4 748.9,1219.2 749.7,1211.5 750.2,1202.6 750.5,1197.7 750.7,1191.3 751.0,1184.1 751.2,1175.6 751.5,1166.1 751.8,1155.1 752.0,1143.1 752.3,1130.4 752.5,1118.1 752.8,1107.5 753.0,1100.3 753.3,1097.7 753.6,1100.2 753.8,1107.2 754.1,1117.5 754.3,1129.5 754.6,1141.9 754.8,1153.6 755.1,1164.5 755.3,1174.0 755.6,1182.3 755.8,1189.4 756.1,1195.4 756.4,1200.6 756.6,1205.1 757.1,1212.2 757.9,1219.6 758.6,1224.4 759.4,1227.7 760.2,1230.2 760.9,1233.0 761.7,1233.6 762.2,1234.3 763.0,1232.8 763.7,1232.2 764.5,1231.5 765.2,1229.6 766.0,1226.5 766.8,1223.9 767.5,1219.8 768.3,1214.4 769.0,1204.9 769.8,1192.2 770.1,1185.8 770.3,1178.7 770.6,1170.7 770.8,1160.8 771.1,1149.6 771.3,1136.6 771.6,1122.2 771.8,1106.2 772.1,1089.5 772.3,1073.4 772.6,1059.5 772.8,1050.1 773.1,1046.7 773.4,1049.8 773.6,1058.4 773.9,1071.0 774.1,1085.8 774.4,1101.1 774.6,1116.0 774.9,1129.4 775.1,1141.4 775.4,1151.6 775.6,1160.9 775.9,1168.6 776.1,1175.6 776.9,1189.4 777.6,1200.0 778.4,1205.6 778.6,1207.6 778.9,1213.0 779.1,1210.8 779.4,1214.7 779.6,1212.0 779.9,1214.3 780.2,1212.9 780.4,1216.5 780.7,1221.1 780.9,1219.6 781.2,1218.5 781.4,1220.2 781.7,1224.0 782.0,1223.5 782.2,1229.8 782.5,1227.0 782.7,1227.8 783.0,1229.0 783.3,1231.6 783.5,1234.3 783.8,1233.3 784.0,1236.0 784.3,1237.9 784.5,1238.6 784.8,1242.2 785.0,1244.1 785.3,1246.9 785.5,1248.6 785.8,1250.5 786.0,1252.4 786.3,1253.4 786.5,1258.0 786.8,1258.9 787.0,1259.2 787.3,1261.4 787.6,1259.2 787.8,1262.2 788.1,1263.2 788.3,1261.8 788.6,1262.4 788.8,1262.7 789.1,1261.2 789.3,1258.0 789.6,1258.8 789.8,1255.7 790.1,1261.7 790.3,1258.3 790.6,1259.7 790.8,1264.0 791.1,1257.2 791.3,1258.9 791.6,1256.8 791.9,1254.3 792.1,1260.6 792.4,1258.0 792.6,1257.9 792.9,1259.6 793.1,1257.3 793.4,1259.1 793.6,1260.3 793.9,1255.7 794.1,1258.1 794.4,1257.3 794.6,1259.2 794.9,1262.2 795.1,1254.2 795.4,1259.8 795.6,1256.4 795.9,1256.0 796.2,1257.7 796.4,1257.2 796.7,1256.2 796.9,1253.8 797.2,1256.8 797.4,1254.9 797.7,1260.4 797.9,1258.3 798.2,1256.1 798.4,1256.8 798.7,1260.3 798.9,1254.7 799.2,1258.5 799.4,1258.6 799.7,1256.4 799.9,1261.0 800.2,1257.8 800.4,1261.3 800.7,1259.5 800.9,1257.8 801.2,1259.1 801.4,1261.8 801.7,1257.6 801.9,1258.0 802.2,1259.8 802.4,1261.4 802.7,1261.7 802.9,1258.3 803.2,1258.0 803.4,1260.6 803.7,1260.5 803.9,1261.8 804.2,1257.8 804.4,1260.3 804.7,1259.1 804.9,1265.4 805.2,1257.3 805.4,1260.0 805.7,1261.1 805.9,1258.5 806.2,1261.6 806.4,1261.0 806.7,1259.4 806.9,1262.0 807.2,1266.2 807.4,1263.7 807.7,1263.6 808.5,1262.2 809.2,1263.5 810.0,1263.9 810.7,1264.1 811.5,1262.8 812.2,1263.4 813.0,1261.6 813.7,1260.8 814.0,1261.4 814.2,1261.2 814.5,1261.0 814.7,1260.6 815.0,1260.3 815.2,1259.7 815.5,1259.5 815.7,1259.0 816.0,1258.4 816.2,1257.9 816.5,1257.3 816.7,1256.6 817.0,1255.9 817.2,1255.2 817.5,1254.6 817.7,1254.0 818.0,1253.5 818.2,1253.2 818.5,1253.1 818.8,1253.2 819.0,1253.5 819.3,1254.0 819.5,1254.6 819.8,1255.3 820.0,1256.1 820.3,1256.8 820.6,1257.5 820.8,1258.2 821.1,1258.7 821.3,1259.2 821.6,1260.0 821.8,1260.2 822.4,1261.1 823.1,1261.6 823.9,1262.3 824.1,1265.4 824.4,1262.6 824.6,1262.1 824.9,1262.9 825.1,1261.3 825.4,1264.1 825.6,1265.9 825.9,1260.8 826.1,1263.5 826.4,1263.7 826.6,1263.4 826.9,1263.0 827.1,1264.2 827.4,1262.8 827.6,1261.9 827.9,1261.7 828.1,1265.1 828.4,1262.4 828.6,1259.6 828.9,1262.6 829.1,1262.6 829.4,1265.8 829.6,1266.1 829.9,1261.5 830.1,1266.8 830.4,1264.9 830.6,1267.6 830.9,1263.1 831.1,1265.8 831.4,1264.4 831.7,1265.9 831.9,1267.7 832.2,1261.2 832.4,1263.9 832.7,1264.1 832.9,1263.3 833.2,1261.7 833.4,1263.0 833.7,1263.6 834.0,1267.7 834.2,1263.3 834.5,1265.5 834.7,1261.9 835.0,1263.4 835.2,1262.7 835.5,1262.9 835.7,1259.4 836.0,1262.5 836.2,1268.2 836.5,1262.3 836.8,1259.3 837.0,1267.2 837.3,1263.0 837.5,1262.7 837.8,1258.3 838.0,1261.0 838.3,1261.0 838.5,1261.1 838.8,1259.1 839.1,1262.7 839.3,1258.2 839.6,1263.6 839.8,1260.9 840.1,1259.8 840.3,1257.2 840.6,1261.4 840.8,1261.3 841.1,1260.4 841.4,1256.7 841.6,1263.4 841.9,1258.7 842.1,1255.4 842.4,1261.2 842.6,1255.7 842.9,1255.7 843.1,1254.1 843.4,1254.8 843.7,1255.9 843.9,1253.7 844.2,1256.3 844.4,1253.0 844.7,1254.7 844.9,1249.5 845.2,1252.9 845.5,1253.6 845.7,1254.7 846.0,1252.1 846.2,1252.8 846.5,1252.9 846.7,1249.8 847.0,1252.6 847.2,1251.7 847.5,1250.7 847.8,1248.9 848.0,1247.0 848.2,1247.9 848.5,1246.4 848.8,1244.3 849.0,1243.8 849.2,1242.8 849.5,1240.1 849.8,1239.4 850.0,1238.1 850.2,1236.7 850.5,1235.0 850.8,1232.6 851.0,1230.0 851.2,1228.8 851.5,1226.0 851.8,1224.9 852.0,1221.6 852.2,1219.0 852.5,1215.5 852.8,1214.2 853.0,1212.0 853.3,1210.8 853.5,1209.0 853.8,1207.0 854.0,1203.9 854.3,1204.0 854.5,1203.4 854.8,1203.3 855.1,1199.4 855.3,1199.5 855.6,1196.4 855.8,1196.9 856.1,1194.7 856.4,1189.4 856.6,1184.4 856.9,1179.7 857.2,1173.6 857.5,1168.5 857.8,1164.9 858.0,1157.6 858.3,1153.8 859.1,1126.6 859.4,1114.9 859.6,1101.0 859.9,1085.6 860.1,1069.4 860.4,1053.4 860.7,1039.6 860.9,1030.0 861.2,1026.6 861.5,1029.8 861.7,1038.6 862.0,1051.6 862.2,1066.6 862.5,1082.0 862.7,1096.6 863.0,1110.1 863.3,1121.8 863.5,1132.3 864.3,1155.2 864.8,1164.6 865.1,1171.8 865.3,1180.0 865.6,1187.9 865.8,1197.4 866.1,1205.8 866.4,1213.1 866.6,1220.3 866.9,1229.1 867.2,1229.8 867.4,1232.8 867.7,1233.6 867.9,1236.9 868.2,1236.7 868.4,1241.0 868.7,1241.0 868.9,1241.6 869.2,1244.1 869.4,1245.7 869.7,1247.6 869.9,1248.0 870.2,1250.7 870.4,1252.4 870.7,1253.9 870.9,1254.8 871.2,1257.1 871.5,1259.0 871.7,1256.1 872.0,1255.7 872.2,1255.7 872.5,1256.6 872.7,1256.3 873.0,1257.2 873.2,1258.6 873.5,1260.2 873.7,1258.6 874.0,1257.8 874.2,1257.5 874.5,1258.9 874.7,1256.3 875.0,1258.0 875.2,1258.2 875.5,1257.1 875.7,1258.5 876.0,1255.2 876.2,1257.9 876.5,1260.2 876.7,1262.0 877.0,1254.6 877.2,1256.0 877.5,1258.2 877.7,1261.7 878.0,1256.7 878.2,1254.4 878.5,1260.4 878.7,1258.2 879.0,1263.6 879.2,1257.8 879.5,1259.2 879.7,1260.9 880.0,1258.5 880.2,1260.9 880.5,1258.9 880.8,1262.6 881.0,1261.6 881.3,1257.3 881.5,1259.8 881.8,1259.7 882.0,1259.7 882.3,1261.8 882.6,1259.1 882.8,1264.0 883.1,1264.7 883.3,1260.8 883.6,1265.1 883.8,1264.0 884.1,1263.3 884.4,1264.4 884.6,1262.1 884.9,1265.4 885.1,1264.0 885.4,1261.6 885.6,1257.0 885.9,1263.1 886.1,1261.9 886.4,1261.4 886.6,1260.0 886.9,1256.5 887.1,1260.0 887.4,1257.4 887.6,1255.5 887.9,1257.1 888.2,1256.4 888.4,1257.0 888.7,1256.3 888.9,1252.0 889.2,1256.3 889.4,1252.2 889.7,1255.5 889.9,1256.7 890.2,1255.9 890.4,1251.6 890.7,1252.2 890.9,1254.7 891.2,1254.1 891.4,1247.7 891.7,1250.7 892.5,1251.0 892.7,1250.7 893.0,1250.8 893.2,1251.0 893.5,1250.8 893.7,1250.8 894.0,1250.6 894.2,1250.8 894.5,1250.9 894.7,1250.9 895.0,1250.9 895.2,1250.9 895.5,1250.9 895.8,1251.1 896.0,1251.6 896.3,1252.4 896.5,1253.4 896.8,1254.6 897.1,1255.7 897.3,1257.0 897.6,1258.1 897.8,1259.1 898.1,1260.1 898.9,1258.2 899.2,1258.5 899.4,1258.0 899.7,1257.6 900.0,1256.9 900.2,1256.4 900.5,1255.9 900.8,1255.5 901.0,1255.3 901.3,1255.2 901.6,1255.3 901.8,1255.6 902.1,1256.0 902.3,1256.5 902.6,1257.1 902.8,1257.9 903.1,1258.3 903.3,1258.9 903.6,1259.8 903.8,1259.9 904.3,1261.4 904.6,1261.2 904.9,1259.3 905.1,1258.9 905.4,1261.4 905.6,1256.9 905.9,1259.5 906.1,1264.6 906.4,1262.3 906.6,1262.8 906.9,1261.8 907.1,1259.5 907.4,1262.3 907.6,1258.5 907.9,1259.9 908.1,1258.7 908.4,1261.5 908.6,1260.3 908.9,1255.7 909.2,1256.9 909.4,1257.0 909.7,1258.3 909.9,1257.4 910.2,1261.1 910.4,1258.1 910.7,1254.6 910.9,1257.0 911.2,1261.7 911.4,1257.8 911.7,1260.2 911.9,1260.8 912.2,1259.3 912.4,1256.3 912.7,1256.6 912.9,1254.6 913.2,1258.2 914.0,1255.4 914.8,1252.0 915.0,1250.1 915.3,1248.3 915.5,1246.4 915.8,1244.2 916.1,1241.8 916.3,1239.6 916.6,1237.0 916.9,1234.6 917.1,1232.5 917.4,1230.9 917.6,1229.8 917.9,1229.4 918.2,1229.8 918.4,1230.8 918.7,1232.5 918.9,1234.5 919.2,1236.8 919.5,1239.3 919.7,1241.6 920.0,1243.8 920.2,1245.7 920.5,1247.9 920.8,1249.6 921.0,1251.8 921.8,1255.0 922.1,1256.6 922.3,1255.0 922.6,1257.1 922.8,1253.4 923.1,1255.7 923.3,1256.3 923.6,1259.0 923.8,1260.3 924.1,1257.8 924.3,1257.6 924.6,1256.2 924.8,1257.0 925.1,1258.5 925.3,1261.6 925.6,1263.6 925.8,1259.3 926.1,1260.4 926.9,1259.8 927.6,1259.7 928.2,1259.2 928.4,1258.3 928.7,1258.7 928.9,1258.4 929.2,1258.1 929.4,1257.7 929.7,1257.3 930.0,1257.0 930.2,1256.5 930.5,1256.1 930.7,1255.7 931.0,1255.4 931.2,1255.3 931.5,1255.2 931.8,1255.3 932.0,1255.7 932.3,1256.2 932.5,1257.0 932.8,1257.7 933.0,1258.5 933.3,1259.4 933.6,1260.2 933.8,1260.9 934.1,1261.6 934.3,1262.2 934.6,1262.9 934.8,1263.3 935.4,1264.5 936.1,1266.0 936.9,1265.7 937.2,1264.0 937.4,1265.8 937.7,1267.1 937.9,1268.9 938.2,1265.7 938.4,1268.7 938.7,1264.4 938.9,1269.1 939.2,1264.8 939.4,1266.2 939.7,1263.6 940.0,1270.6 940.2,1265.9 940.5,1269.5 940.7,1266.8 941.0,1267.8 941.2,1268.9 941.5,1264.7 941.7,1268.4 942.0,1266.8 942.2,1265.5 942.5,1270.2 942.8,1267.5 943.0,1271.0 943.3,1268.4 943.5,1267.4 943.8,1267.0 944.0,1268.5 944.3,1267.1 944.5,1270.8 944.8,1267.5 945.1,1272.0 945.3,1268.1 945.6,1268.9 945.8,1267.7 946.1,1274.5 946.3,1264.7 946.6,1271.4 946.8,1272.1 947.1,1272.3 947.3,1273.9 947.6,1270.0 947.9,1273.3 948.1,1266.2 948.4,1270.3 948.6,1267.7 948.9,1269.5 949.1,1269.4 949.4,1272.3 949.6,1271.8 949.9,1269.9 950.1,1268.1 950.4,1270.7 950.6,1270.1 950.9,1268.9 951.1,1271.9 951.4,1272.9 951.6,1268.0 951.9,1272.8 952.2,1267.4 952.4,1268.8 952.7,1266.3 952.9,1270.7 953.2,1273.8 953.4,1267.1 953.7,1268.4 953.9,1267.5 954.2,1270.1 954.4,1272.3 954.7,1266.6 954.9,1271.6 955.2,1274.3 955.4,1269.2 955.7,1269.8 955.9,1271.2 956.2,1270.0 956.5,1265.2 956.7,1267.3 957.0,1270.3 957.2,1269.0 957.5,1270.4 957.7,1266.3 958.0,1268.0 958.2,1266.4 958.5,1265.3 958.7,1269.2 959.0,1271.4 959.2,1265.2 959.5,1267.9 959.7,1268.3 960.0,1269.7 960.3,1264.9 960.5,1262.7 960.8,1267.1 961.0,1264.0 961.3,1262.7 961.5,1264.6 961.8,1265.1 962.0,1265.3 962.3,1264.2 962.5,1259.8 962.8,1259.3 963.0,1265.1 963.3,1266.9 963.5,1264.8 963.8,1263.6 964.1,1261.4 964.3,1266.3 964.6,1262.4 964.8,1267.9 965.1,1266.0 965.3,1267.7 965.6,1264.2 965.8,1267.9 966.1,1262.2 966.3,1270.1 966.6,1264.8 966.8,1267.9 967.1,1270.5 967.3,1270.9 967.6,1269.5 967.8,1266.0 968.1,1270.0 968.4,1272.7 968.6,1268.7 968.9,1266.0 969.1,1272.4 969.4,1274.5 969.6,1267.7 969.9,1270.8 970.1,1270.3 970.4,1268.7 970.7,1269.0 970.9,1268.0 971.2,1262.4 971.4,1265.0 971.7,1265.4 971.9,1264.2 972.2,1266.1 972.4,1265.6 972.7,1267.0 973.0,1270.3 973.2,1263.3 973.5,1266.5 973.7,1268.5 974.0,1264.2 974.2,1260.2 974.5,1263.6 974.7,1266.3 975.0,1264.6 975.2,1259.6 975.5,1263.4 975.8,1262.1 976.0,1261.1 976.3,1263.8 976.5,1255.9 976.8,1264.8 977.0,1265.4 977.3,1260.0 977.5,1258.5 977.8,1260.4 978.1,1256.3 978.3,1259.7 978.6,1256.6 978.8,1252.5 979.1,1251.6 979.3,1256.7 979.6,1256.8 979.8,1250.8 980.1,1256.3 980.3,1250.9 980.6,1251.6 980.8,1248.2 981.1,1252.0 981.3,1248.3 981.6,1247.9 981.8,1248.0 982.1,1246.4 982.4,1244.8 982.6,1249.7 982.9,1247.4 983.1,1245.3 983.4,1244.1 983.6,1247.4 983.9,1247.4 984.1,1246.8 984.4,1244.6 984.6,1250.3 984.9,1247.7 985.1,1249.9 985.4,1249.0 985.6,1247.4 985.9,1246.3 986.1,1244.9 986.4,1250.1 986.6,1247.7 986.9,1251.5 987.1,1251.8 987.4,1248.5 988.2,1243.3 988.5,1241.8 988.7,1239.7 989.0,1237.2 989.2,1234.7 989.5,1232.0 989.8,1229.4 990.0,1226.7 990.3,1224.3 990.6,1222.4 990.8,1221.2 991.1,1220.8 991.4,1221.0 991.6,1221.7 991.9,1222.8 992.1,1224.2 992.4,1225.7 992.7,1227.4 992.9,1228.9 993.2,1230.4 993.4,1231.7 993.7,1233.1 994.0,1234.2 994.2,1235.3 995.0,1237.8 995.3,1240.6 995.5,1242.3 995.8,1245.3 996.1,1248.0 996.3,1249.3 996.6,1252.2 996.9,1255.7 997.1,1257.2 997.4,1259.3 997.7,1261.2 997.9,1263.5 998.2,1265.7 998.5,1268.2 998.7,1265.1 999.0,1264.5 999.2,1264.0 999.5,1264.3 999.7,1265.3 1000.0,1264.7 1000.2,1264.1 1000.5,1269.6 1000.8,1261.9 1001.0,1264.5 1001.3,1265.5 1001.5,1263.7 1001.8,1263.8 1002.0,1260.4 1002.3,1263.4 1002.6,1264.8 1002.8,1260.9 1003.1,1263.6 1003.3,1264.5 1003.6,1262.5 1003.8,1262.5 1004.1,1258.5 1004.3,1264.5 1004.6,1261.5 1004.9,1266.9 1005.1,1264.5 1005.4,1265.5 1005.6,1255.8 1005.9,1259.9 1006.1,1260.4 1006.4,1261.7 1006.6,1260.2 1006.9,1257.2 1007.1,1260.9 1007.4,1257.7 1007.6,1260.6 1007.9,1263.5 1008.1,1265.6 1008.4,1262.7 1008.6,1263.2 1008.9,1257.2 1009.2,1258.7 1009.4,1262.9 1009.7,1262.8 1009.9,1261.7 1010.2,1259.8 1010.4,1260.4 1010.7,1262.4 1010.9,1265.5 1011.2,1261.3 1011.4,1256.1 1011.7,1266.6 1011.9,1263.0 1012.2,1260.2 1012.4,1264.8 1012.7,1263.2 1012.9,1260.3 1013.2,1261.5 1013.5,1260.4 1013.7,1263.8 1014.0,1262.3 1014.2,1265.6 1014.5,1261.2 1014.7,1261.1 1015.0,1260.0 1015.2,1262.7 1015.5,1268.3 1015.7,1258.6 1016.0,1264.9 1016.2,1261.6 1016.5,1262.3 1016.7,1269.2 1017.0,1260.3 1017.2,1263.9 1017.5,1260.0 1017.7,1263.9 1018.0,1266.9 1018.2,1266.0 1018.5,1268.5 1018.7,1268.2 1019.0,1265.5 1019.2,1267.0 1019.5,1268.2 1019.7,1266.5 1020.0,1262.5 1020.2,1266.8 1020.5,1268.8 1020.7,1268.7 1021.0,1264.2 1021.2,1266.7 1021.5,1270.5 1021.7,1267.3 1022.0,1271.6 1022.2,1267.0 1022.5,1270.0 1022.8,1264.9 1023.0,1265.7 1023.2,1273.1 1023.5,1265.4 1023.8,1265.1 1024.0,1267.0 1024.2,1264.0 1024.5,1259.9 1024.8,1262.6 1025.0,1265.7 1025.2,1258.8 1025.5,1258.9 1025.8,1260.9 1026.0,1261.1 1026.2,1258.5 1026.5,1259.5 1027.3,1260.0 1028.0,1258.7 1028.3,1257.8 1028.6,1257.4 1028.8,1257.0 1029.1,1256.5 1029.3,1256.0 1029.6,1255.5 1029.9,1254.9 1030.1,1254.3 1030.4,1253.8 1030.6,1253.3 1030.9,1252.9 1031.1,1252.7 1031.4,1252.6 1031.7,1252.7 1031.9,1253.0 1032.2,1253.5 1032.4,1254.1 1032.7,1254.8 1033.0,1255.6 1033.2,1256.2 1033.5,1256.9 1033.7,1257.1 1034.0,1258.1 1034.2,1258.6 1034.5,1259.4 1035.3,1259.8 1035.8,1260.8 1036.1,1261.2 1036.3,1262.2 1036.6,1261.4 1036.8,1264.4 1037.1,1260.2 1037.4,1259.5 1037.6,1262.2 1037.9,1262.9 1038.1,1258.8 1038.4,1263.5 1038.7,1265.0 1038.9,1268.6 1039.2,1265.8 1039.4,1267.7 1039.7,1266.1 1040.0,1261.9 1040.2,1264.9 1040.5,1264.5 1040.7,1265.6 1041.0,1265.2 1041.2,1265.5 1041.5,1265.5 1041.7,1262.9 1042.0,1264.1 1042.2,1268.5 1042.5,1264.0 1042.7,1267.7 1043.0,1262.0 1043.2,1263.4 1043.5,1267.6 1043.7,1271.0 1044.0,1266.3 1044.2,1264.2 1044.5,1266.9 1044.7,1264.3 1045.0,1266.2 1045.2,1263.9 1045.5,1268.1 1045.7,1261.6 1046.0,1261.9 1046.2,1263.8 1046.5,1265.1 1046.7,1261.7 1047.0,1262.9 1047.2,1268.3 1047.5,1267.2 1047.7,1264.8 1048.0,1263.4 1048.2,1266.7 1048.5,1263.9 1048.7,1262.5 1049.0,1267.2 1049.2,1264.7 1049.5,1270.3 1049.8,1267.3 1050.0,1265.6 1050.3,1263.5 1050.5,1270.4 1050.8,1267.3 1051.0,1268.1 1051.3,1268.9 1051.5,1267.3 1051.8,1264.0 1052.1,1270.2 1052.3,1269.8 1052.6,1265.9 1052.8,1271.7 1053.1,1270.4 1053.3,1275.3 1053.6,1270.7 1054.4,1269.6 1055.1,1269.1 1055.9,1269.6 1056.4,1268.6 1056.7,1268.7 1056.9,1267.8 1057.2,1267.4 1057.5,1267.1 1057.7,1266.3 1058.0,1265.7 1058.2,1265.0 1058.5,1264.3 1058.8,1263.6 1059.0,1262.9 1059.3,1262.1 1059.5,1261.5 1059.8,1260.9 1060.0,1260.6 1060.3,1260.5 1060.6,1260.6 1060.8,1260.8 1061.1,1261.2 1061.3,1261.6 1061.6,1262.1 1061.8,1262.7 1062.1,1263.2 1062.4,1263.7 1062.6,1263.8 1062.9,1264.6 1063.1,1265.0 1063.4,1266.0 1063.6,1265.6 1063.9,1265.9 1064.1,1266.3 1064.9,1267.0 1065.7,1266.5 1066.2,1267.4 1066.5,1271.8 1066.7,1269.1 1067.0,1266.1 1067.2,1267.2 1067.5,1267.7 1067.7,1266.1 1068.0,1264.3 1068.2,1265.3 1068.5,1265.7 1068.7,1266.0 1069.0,1267.5 1069.2,1269.6 1069.5,1267.7 1069.7,1265.9 1070.0,1271.9 1070.2,1269.1 1070.5,1264.5 1070.7,1269.2 1071.0,1266.4 1071.2,1268.8 1071.5,1270.0 1071.8,1268.1 1072.0,1269.4 1072.3,1264.0 1072.5,1267.8 1072.8,1269.2 1073.0,1262.9 1073.3,1267.3 1073.5,1266.2 1073.8,1265.1 1074.0,1267.4 1074.3,1261.5 1074.5,1261.5 1074.8,1262.9 1075.1,1262.8 1075.3,1260.9 1075.6,1261.0 1075.8,1259.0 1076.1,1259.9 1076.3,1257.3 1076.6,1258.4 1076.8,1255.7 1077.1,1255.5 1077.3,1252.2 1077.6,1253.7 1077.8,1254.6 1078.1,1254.2 1078.9,1254.3 1079.7,1254.0 1079.9,1254.5 1080.2,1254.5 1080.4,1255.1 1080.7,1254.7 1081.0,1254.8 1081.2,1254.8 1081.5,1254.9 1081.8,1255.0 1082.0,1255.1 1082.3,1255.1 1082.5,1255.2 1082.8,1255.2 1083.1,1255.3 1083.3,1255.5 1083.6,1255.9 1083.8,1256.4 1084.1,1257.0 1084.3,1257.5 1084.6,1258.1 1084.8,1258.7 1085.1,1259.6 1085.4,1259.7 1085.6,1260.1 1085.9,1261.1 1086.6,1262.2 1087.4,1262.1 1087.7,1268.3 1087.9,1260.7 1088.2,1265.3 1088.4,1264.0 1088.7,1268.0 1088.9,1267.1 1089.2,1267.7 1089.4,1268.9 1089.7,1266.6 1089.9,1268.0 1090.2,1264.8 1090.4,1271.8 1090.7,1267.9 1090.9,1269.8 1091.2,1269.1 1091.4,1267.4 1091.7,1267.3 1091.9,1268.8 1092.2,1269.8 1092.4,1268.4 1092.7,1271.4 1093.0,1271.6 1093.2,1272.6 1093.5,1272.3 1093.7,1270.0 1094.0,1271.3 1094.2,1274.4 1094.5,1273.5 1094.7,1270.7 1095.0,1270.5 1095.2,1273.3 1095.5,1266.5 1095.7,1272.8 1096.0,1268.8 1096.2,1270.0 1096.5,1270.6 1096.7,1273.3 1097.0,1267.4 1097.2,1272.6 1097.5,1274.9 1097.7,1269.0 1098.0,1271.4 1098.3,1272.3 1098.5,1276.3 1098.8,1270.3 1099.0,1272.7 1099.3,1269.6 1099.5,1270.7 1099.8,1264.8 1100.0,1269.6 1100.3,1274.5 1100.5,1273.9 1100.8,1268.2 1101.0,1270.5 1101.3,1268.4 1101.6,1269.0 1101.8,1267.1 1102.1,1272.3 1102.3,1267.6 1102.6,1272.2 1102.8,1267.7 1103.1,1272.1 1103.3,1267.6 1103.6,1265.1 1103.8,1266.3 1104.1,1268.1 1104.3,1269.7 1104.6,1267.4 1104.8,1268.6 1105.1,1263.9 1105.3,1269.6 1105.6,1266.2 1105.8,1265.6 1106.1,1263.0 1106.3,1266.4 1106.6,1263.2 1106.8,1259.7 1107.1,1262.4 1107.3,1262.9 1107.6,1260.9 1107.8,1260.0 1108.1,1261.2 1108.3,1256.9 1108.6,1259.5 1109.4,1260.3 1110.1,1259.0 1110.4,1259.0 1110.6,1258.9 1110.9,1258.8 1111.2,1258.7 1111.4,1258.6 1111.7,1258.5 1111.9,1258.3 1112.2,1258.2 1112.4,1258.1 1112.7,1258.0 1112.9,1257.9 1113.2,1257.9 1113.5,1257.9 1113.7,1258.1 1114.0,1258.3 1114.2,1258.5 1114.5,1258.8 1114.8,1259.2 1115.0,1259.4 1115.3,1259.7 1115.6,1260.2 1115.8,1260.2 1116.3,1259.6 1116.6,1260.8 1116.9,1260.5 1117.1,1261.9 1117.4,1259.5 1117.6,1262.5 1117.9,1262.8 1118.1,1259.3 1118.4,1258.1 1118.6,1259.3 1118.9,1259.4 1119.2,1260.5 1119.4,1258.8 1119.7,1257.5 1119.9,1260.9 1120.2,1263.5 1120.4,1264.5 1120.7,1260.2 1120.9,1255.3 1121.2,1259.5 1121.5,1258.8 1121.7,1259.0 1122.0,1260.6 1122.2,1259.4 1122.5,1261.6 1122.7,1261.5 1123.0,1262.1 1123.2,1261.0 1123.5,1259.2 1123.7,1261.4 1124.0,1262.9 1124.2,1263.1 1124.5,1262.4 1124.7,1269.7 1125.0,1264.2 1125.2,1261.8 1125.5,1267.7 1125.7,1266.6 1126.0,1272.1 1126.2,1267.1 1126.5,1267.5 1126.7,1266.5 1127.0,1266.6 1127.2,1268.7 1128.0,1268.8 1128.7,1267.2 1129.5,1267.2 1129.8,1267.3 1130.0,1267.0 1130.3,1267.3 1130.5,1266.4 1130.8,1266.1 1131.0,1265.8 1131.3,1265.3 1131.6,1264.9 1131.8,1264.5 1132.1,1264.1 1132.3,1263.7 1132.6,1263.4 1132.8,1263.3 1133.1,1263.2 1133.3,1263.3 1133.6,1263.4 1133.8,1263.7 1134.1,1264.0 1134.3,1264.4 1134.6,1264.7 1134.8,1265.2 1135.1,1265.6 1135.3,1265.9 1135.6,1266.3 1135.8,1266.6 1136.1,1266.7 1136.3,1267.2 1136.6,1267.4 1136.8,1267.6 1137.6,1268.2 1138.3,1267.4 1139.1,1268.7 1139.4,1267.9 1139.6,1273.2 1139.9,1269.2 1140.1,1266.2 1140.4,1272.9 1140.6,1270.9 1140.9,1271.3 1141.1,1271.1 1141.4,1270.3 1141.6,1276.4 1141.9,1269.6 1142.1,1272.6 1142.4,1273.1 1142.6,1272.8 1142.9,1272.1 1143.1,1269.7 1143.4,1270.9 1143.6,1272.7 1143.9,1272.9 1144.1,1273.4 1144.4,1272.7 1144.7,1274.8 1144.9,1268.6 1145.2,1269.4 1145.4,1272.8 1145.7,1269.3 1145.9,1274.1 1146.2,1272.1 1146.4,1273.8 1146.7,1271.2 1146.9,1269.3 1147.2,1273.9 1147.4,1271.1 1147.7,1273.7 1147.9,1270.9 1148.2,1271.7 1148.4,1269.6 1148.7,1267.8 1148.9,1271.4 1149.2,1270.5 1149.4,1269.9 1149.7,1270.0 1150.0,1270.1 1150.2,1269.6 1150.5,1269.3 1150.7,1265.7 1151.0,1270.9 1151.2,1271.1 1151.5,1271.3 1151.7,1274.5 1152.0,1274.2 1152.2,1271.0 1152.5,1272.7" fill="none" stroke="#000000" stroke-width="5.0" stroke-linejoin="round" stroke-linecap="butt" shape-rendering="crispEdges"/>
<text x="843.5" y="407.5" font-size="45.6">C-1200 (spent)</text>
<text x="861.3" y="982.3" font-size="45.6">C-1200 (fresh)</text>
<text transform="translate(73,840.5) rotate(-90) scale(1,1.04)" font-size="51">Relative Intensity</text>
<text x="524.5" y="1455.2" font-size="50">2</text>
<text transform="translate(549.6,1455.2) scale(1.02,0.975)" font-size="50" font-weight="normal">&#952;</text>
<text x="590" y="1455.2" font-size="50" letter-spacing="0.65">(degree)</text>
</svg></div></body></html>
